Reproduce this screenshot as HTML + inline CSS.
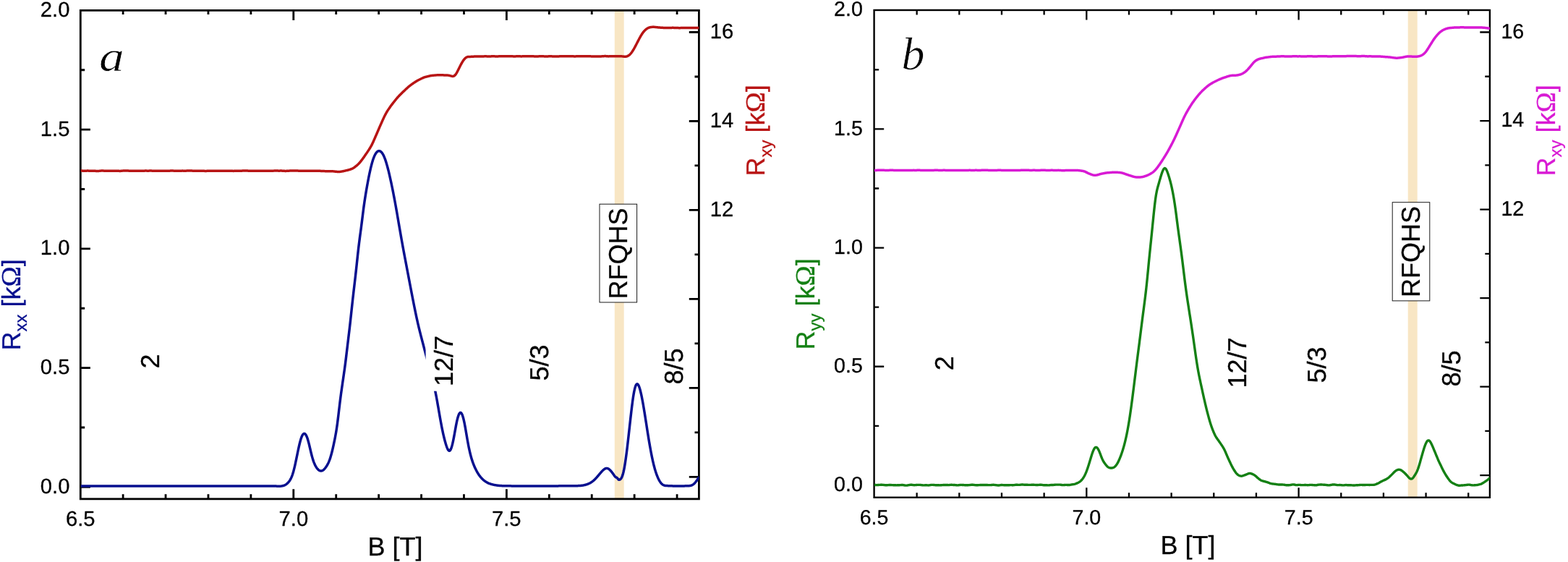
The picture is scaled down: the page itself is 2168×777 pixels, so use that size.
<!DOCTYPE html>
<html lang="en">
<head>
<meta charset="utf-8">
<title>Rxx, Ryy and Rxy versus B</title>
<style>html,body{margin:0;padding:0;background:#fff;}body{width:2168px;height:777px;overflow:hidden;}svg{display:block;}</style>
</head>
<body>
<svg width="2168" height="777" viewBox="0 0 2168 777" font-family='"Liberation Sans", sans-serif' text-rendering="geometricPrecision" role="img" aria-label="Magnetoresistance Rxx, Ryy and Hall resistance Rxy versus magnetic field B">
<style>text{stroke-width:0.3px;stroke-linejoin:round;paint-order:stroke fill;}</style>
<rect x="0" y="0" width="2168" height="777" fill="#ffffff"/>
<g id="p1">
<clipPath id="clip-p1"><rect x="111.3" y="14.4" width="855.1" height="675.45"/></clipPath>
<rect x="849.8" y="14.4" width="12.9" height="675.45" fill="#f8e6c4"/>
<path d="M170.12 689.85V683.15M170.12 14.4V20.1M229.04 689.85V683.15M229.04 14.4V20.1M287.96 689.85V683.15M287.96 14.4V20.1M346.88 689.85V683.15M346.88 14.4V20.1M405.8 689.85V676.25M405.8 14.4V28M464.72 689.85V683.15M464.72 14.4V20.1M523.64 689.85V683.15M523.64 14.4V20.1M582.56 689.85V683.15M582.56 14.4V20.1M641.48 689.85V683.15M641.48 14.4V20.1M700.4 689.85V676.25M700.4 14.4V28M759.32 689.85V683.15M759.32 14.4V20.1M818.24 689.85V683.15M818.24 14.4V20.1M877.16 689.85V683.15M877.16 14.4V20.1M936.08 689.85V683.15M936.08 14.4V20.1M111.3 673.4H124.9M111.3 591.02H117.2M111.3 508.65H124.9M111.3 426.27H117.2M111.3 343.9H124.9M111.3 261.52H117.2M111.3 179.15H124.9M111.3 96.77H117.2M966.4 659.4H952.8M966.4 597.91H960.5M966.4 536.42H952.8M966.4 474.93H960.5M966.4 413.44H952.8M966.4 351.95H960.5M966.4 290.46H952.8M966.4 228.97H960.5M966.4 167.48H952.8M966.4 105.99H960.5M966.4 44.5H952.8" stroke="#000" stroke-width="2.8" fill="none"/>
<rect x="111.3" y="14.4" width="855.1" height="675.45" fill="none" stroke="#000" stroke-width="2.8"/>
<g clip-path="url(#clip-p1)" fill="none" stroke-linejoin="round" stroke-linecap="butt">
<path d="M111.5 672 L112 672 L112.5 672 L113 672 L113.5 672 L114 672 L114.5 672 L115 672 L115.5 672 L116 672 L116.5 672 L117 672 L117.5 672 L118 672 L118.5 672 L119 672 L119.5 672 L120 672 L120.5 672 L121 672 L121.5 672 L122 672 L122.5 672 L123 672 L123.5 672 L124 672 L124.5 672 L125 672 L125.5 672 L126 672 L126.5 672 L127 672 L127.5 672 L128 672 L128.5 672 L129 672 L129.5 672 L130 672 L130.5 672 L131 672 L131.5 672 L132 672 L132.5 672 L133 672 L133.5 672 L134 672 L134.5 672 L135 672 L135.5 672 L136 672 L136.5 672 L137 672 L137.5 672 L138 672 L138.5 672 L139 672 L139.5 672 L140 672 L140.5 672 L141 672 L141.5 672 L142 672 L142.5 672 L143 672 L143.5 672 L144 672 L144.5 672 L145 672 L145.5 672 L146 672 L146.5 672 L147 672 L147.5 672 L148 672 L148.5 672 L149 672 L149.5 672 L150 672 L150.5 672 L151 672 L151.5 672 L152 672 L152.5 672 L153 672 L153.5 672 L154 672 L154.5 672 L155 672 L155.5 672 L156 672 L156.5 672 L157 672 L157.5 672 L158 672 L158.5 672 L159 672 L159.5 672 L160 672 L160.5 672 L161 672 L161.5 672 L162 672 L162.5 672 L163 672 L163.5 672 L164 672 L164.5 672 L165 672 L165.5 672 L166 672 L166.5 672 L167 672 L167.5 672 L168 672 L168.5 672 L169 672 L169.5 672 L170 672 L170.5 672 L171 672 L171.5 672 L172 672 L172.5 672 L173 672 L173.5 672 L174 672 L174.5 672 L175 672 L175.5 672 L176 672 L176.5 672 L177 672 L177.5 672 L178 672 L178.5 672 L179 672 L179.5 672 L180 672 L180.5 672 L181 672 L181.5 672 L182 672 L182.5 672 L183 672 L183.5 672 L184 672 L184.5 672 L185 672 L185.5 672 L186 672 L186.5 672 L187 672 L187.5 672 L188 672 L188.5 672 L189 672 L189.5 672 L190 672 L190.5 672 L191 672 L191.5 672 L192 672 L192.5 672 L193 672 L193.5 672 L194 672 L194.5 672 L195 672 L195.5 672 L196 672 L196.5 672 L197 672 L197.5 672 L198 672 L198.5 672 L199 672 L199.5 672 L200 672 L200.5 672 L201 672 L201.5 672 L202 672 L202.5 672 L203 672 L203.5 672 L204 672 L204.5 672 L205 672 L205.5 672 L206 672 L206.5 672 L207 672 L207.5 672 L208 672 L208.5 672 L209 672 L209.5 672 L210 672 L210.5 672 L211 672 L211.5 672 L212 672 L212.5 672 L213 672 L213.5 672 L214 672 L214.5 672 L215 672 L215.5 672 L216 672 L216.5 672 L217 672 L217.5 672 L218 672 L218.5 672 L219 672 L219.5 672 L220 672 L220.5 672 L221 672 L221.5 672 L222 672 L222.5 672 L223 672 L223.5 672 L224 672 L224.5 672 L225 672 L225.5 672 L226 672 L226.5 672 L227 672 L227.5 672 L228 672 L228.5 672 L229 672 L229.5 672 L230 672 L230.5 672 L231 672 L231.5 672 L232 672 L232.5 672 L233 672 L233.5 672 L234 672 L234.5 672 L235 672 L235.5 672 L236 672 L236.5 672 L237 672 L237.5 672 L238 672 L238.5 672 L239 672 L239.5 672 L240 672 L240.5 672 L241 672 L241.5 672 L242 672 L242.5 672 L243 672 L243.5 672 L244 672 L244.5 672 L245 672 L245.5 672 L246 672 L246.5 672 L247 672 L247.5 672 L248 672 L248.5 672 L249 672 L249.5 672 L250 672 L250.5 672 L251 672 L251.5 672 L252 672 L252.5 672 L253 672 L253.5 672 L254 672 L254.5 672 L255 672 L255.5 672 L256 672 L256.5 672 L257 672 L257.5 672 L258 672 L258.5 672 L259 672 L259.5 672 L260 672 L260.5 672 L261 672 L261.5 672 L262 672 L262.5 672 L263 672 L263.5 672 L264 672 L264.5 672 L265 672 L265.5 672 L266 672 L266.5 672 L267 672 L267.5 672 L268 672 L268.5 672 L269 672 L269.5 672 L270 672 L270.5 672 L271 672 L271.5 672 L272 672 L272.5 672 L273 672 L273.5 672 L274 672 L274.5 672 L275 672 L275.5 672 L276 672 L276.5 672 L277 672 L277.5 672 L278 672 L278.5 672 L279 672 L279.5 672 L280 672 L280.5 672 L281 672 L281.5 672 L282 672 L282.5 672 L283 672 L283.5 672 L284 672 L284.5 672 L285 672 L285.5 672 L286 672 L286.5 672 L287 672 L287.5 672 L288 672 L288.5 672 L289 672 L289.5 672 L290 672 L290.5 672 L291 672 L291.5 672 L292 672 L292.5 672 L293 672 L293.5 672 L294 672 L294.5 672 L295 672 L295.5 672 L296 672 L296.5 672 L297 672 L297.5 672 L298 672 L298.5 672 L299 672 L299.5 672 L300 672 L300.5 672 L301 672 L301.5 672 L302 672 L302.5 672 L303 672 L303.5 672 L304 672 L304.5 672 L305 672 L305.5 672 L306 672 L306.5 672 L307 672 L307.5 672 L308 672 L308.5 672 L309 672 L309.5 672 L310 672 L310.5 672 L311 672 L311.5 672 L312 672 L312.5 672 L313 672 L313.5 672 L314 672 L314.5 672 L315 672 L315.5 672 L316 672 L316.5 672 L317 672 L317.5 672 L318 672 L318.5 672 L319 672 L319.5 672 L320 672 L320.5 672 L321 672 L321.5 672 L322 672 L322.5 672 L323 672 L323.5 672 L324 672 L324.5 672 L325 672 L325.5 672 L326 672 L326.5 672 L327 672 L327.5 672 L328 672 L328.5 672 L329 672 L329.5 672 L330 672 L330.5 672 L331 672 L331.5 672 L332 672 L332.5 672 L333 672 L333.5 672 L334 672 L334.5 672 L335 672 L335.5 672 L336 672 L336.5 672 L337 672 L337.5 672 L338 672 L338.5 672 L339 672 L339.5 672 L340 672 L340.5 672 L341 672 L341.5 672 L342 672 L342.5 672 L343 672 L343.5 672 L344 672 L344.5 672 L345 672 L345.5 672 L346 672 L346.5 672 L347 672 L347.5 672 L348 672 L348.5 672 L349 672 L349.5 672 L350 672 L350.5 672 L351 672 L351.5 672 L352 672 L352.5 672 L353 672 L353.5 672 L354 672 L354.5 672 L355 672 L355.5 672 L356 672 L356.5 672 L357 672 L357.5 672 L358 672 L358.5 672 L359 672 L359.5 672 L360 672 L360.5 672 L361 672 L361.5 672 L362 672 L362.5 672 L363 672 L363.5 672 L364 672 L364.5 672 L365 672 L365.5 672 L366 672 L366.5 672 L367 672.01 L367.5 672.01 L368 672.01 L368.5 672.01 L369 672.01 L369.5 672.01 L370 672.01 L370.5 672.01 L371 672.01 L371.5 672.01 L372 672 L372.5 672 L373 672 L373.5 671.99 L374 671.98 L374.5 671.98 L375 671.97 L375.5 671.97 L376 671.96 L376.5 671.96 L377 671.96 L377.5 671.96 L378 671.96 L378.5 671.97 L379 671.98 L379.5 671.99 L380 672 L380.5 672.02 L381 672.05 L381.5 672.07 L382 672.1 L382.5 672.13 L383 672.15 L383.5 672.18 L384 672.2 L384.5 672.22 L385 672.23 L385.5 672.24 L386 672.24 L386.5 672.24 L387 672.22 L387.5 672.2 L388 672.16 L388.5 672.12 L389 672.06 L389.5 671.99 L390 671.9 L390.5 671.8 L391 671.69 L391.5 671.55 L392 671.4 L392.5 671.23 L393 671.03 L393.5 670.82 L394 670.58 L394.5 670.31 L395 670.02 L395.5 669.7 L396 669.35 L396.5 668.97 L397 668.55 L397.5 668.1 L398 667.61 L398.5 667.08 L399 666.51 L399.5 665.89 L400 665.22 L400.5 664.49 L401 663.71 L401.5 662.85 L402 661.92 L402.5 660.9 L403 659.79 L403.5 658.58 L404 657.27 L404.5 655.85 L405 654.3 L405.5 652.64 L406 650.85 L406.5 648.93 L407 646.91 L407.5 644.79 L408 642.58 L408.5 640.29 L409 637.96 L409.5 635.57 L410 633.16 L410.5 630.73 L411 628.31 L411.5 625.89 L412 623.5 L412.5 621.16 L413 618.87 L413.5 616.65 L414 614.51 L414.5 612.47 L415 610.54 L415.5 608.73 L416 607.05 L416.5 605.53 L417 604.16 L417.5 602.97 L418 601.95 L418.5 601.11 L419 600.45 L419.5 599.96 L420 599.65 L420.5 599.51 L421 599.54 L421.5 599.74 L422 600.11 L422.5 600.65 L423 601.36 L423.5 602.24 L424 603.29 L424.5 604.52 L425 605.91 L425.5 607.46 L426 609.16 L426.5 610.99 L427 612.92 L427.5 614.94 L428 617.01 L428.5 619.13 L429 621.26 L429.5 623.38 L430 625.48 L430.5 627.52 L431 629.48 L431.5 631.36 L432 633.13 L432.5 634.8 L433 636.35 L433.5 637.81 L434 639.16 L434.5 640.41 L435 641.58 L435.5 642.66 L436 643.66 L436.5 644.59 L437 645.44 L437.5 646.24 L438 646.97 L438.5 647.64 L439 648.26 L439.5 648.82 L440 649.32 L440.5 649.76 L441 650.14 L441.5 650.46 L442 650.72 L442.5 650.91 L443 651.04 L443.5 651.11 L444 651.11 L444.5 651.04 L445 650.91 L445.5 650.73 L446 650.48 L446.5 650.17 L447 649.81 L447.5 649.4 L448 648.94 L448.5 648.44 L449 647.88 L449.5 647.29 L450 646.65 L450.5 645.98 L451 645.26 L451.5 644.51 L452 643.71 L452.5 642.86 L453 641.95 L453.5 640.99 L454 639.96 L454.5 638.85 L455 637.66 L455.5 636.39 L456 635.03 L456.5 633.58 L457 632.02 L457.5 630.35 L458 628.59 L458.5 626.73 L459 624.77 L459.5 622.73 L460 620.61 L460.5 618.41 L461 616.16 L461.5 613.84 L462 611.47 L462.5 609.04 L463 606.55 L463.5 603.97 L464 601.28 L464.5 598.45 L465 595.45 L465.5 592.24 L466 588.82 L466.5 585.17 L467 581.31 L467.5 577.27 L468 573.11 L468.5 568.88 L469 564.63 L469.5 560.42 L470 556.29 L470.5 552.28 L471 548.4 L471.5 544.64 L472 541 L472.5 537.44 L473 533.96 L473.5 530.52 L474 527.11 L474.5 523.7 L475 520.28 L475.5 516.82 L476 513.3 L476.5 509.7 L477 506 L477.5 502.18 L478 498.25 L478.5 494.2 L479 490.08 L479.5 485.9 L480 481.71 L480.5 477.54 L481 473.38 L481.5 469.23 L482 465.08 L482.5 460.9 L483 456.67 L483.5 452.36 L484 447.97 L484.5 443.48 L485 438.91 L485.5 434.29 L486 429.64 L486.5 424.99 L487 420.37 L487.5 415.82 L488 411.34 L488.5 406.95 L489 402.63 L489.5 398.37 L490 394.13 L490.5 389.87 L491 385.58 L491.5 381.21 L492 376.76 L492.5 372.21 L493 367.57 L493.5 362.89 L494 358.2 L494.5 353.54 L495 348.97 L495.5 344.53 L496 340.25 L496.5 336.13 L497 332.18 L497.5 328.35 L498 324.6 L498.5 320.89 L499 317.16 L499.5 313.38 L500 309.52 L500.5 305.55 L501 301.52 L501.5 297.46 L502 293.45 L502.5 289.54 L503 285.78 L503.5 282.18 L504 278.73 L504.5 275.42 L505 272.22 L505.5 269.12 L506 266.1 L506.5 263.16 L507 260.29 L507.5 257.47 L508 254.71 L508.5 252 L509 249.35 L509.5 246.75 L510 244.21 L510.5 241.74 L511 239.34 L511.5 237.01 L512 234.77 L512.5 232.62 L513 230.55 L513.5 228.57 L514 226.68 L514.5 224.89 L515 223.19 L515.5 221.58 L516 220.07 L516.5 218.66 L517 217.35 L517.5 216.14 L518 215.02 L518.5 214 L519 213.07 L519.5 212.24 L520 211.5 L520.5 210.85 L521 210.28 L521.5 209.81 L522 209.42 L522.5 209.12 L523 208.9 L523.5 208.76 L524 208.7 L524.5 208.72 L525 208.83 L525.5 209.01 L526 209.27 L526.5 209.62 L527 210.04 L527.5 210.55 L528 211.14 L528.5 211.81 L529 212.56 L529.5 213.4 L530 214.33 L530.5 215.34 L531 216.43 L531.5 217.61 L532 218.88 L532.5 220.23 L533 221.66 L533.5 223.17 L534 224.75 L534.5 226.41 L535 228.13 L535.5 229.92 L536 231.78 L536.5 233.7 L537 235.67 L537.5 237.69 L538 239.77 L538.5 241.9 L539 244.07 L539.5 246.29 L540 248.55 L540.5 250.86 L541 253.2 L541.5 255.58 L542 257.99 L542.5 260.44 L543 262.93 L543.5 265.44 L544 267.99 L544.5 270.58 L545 273.19 L545.5 275.84 L546 278.52 L546.5 281.23 L547 283.98 L547.5 286.76 L548 289.57 L548.5 292.42 L549 295.29 L549.5 298.18 L550 301.09 L550.5 304.01 L551 306.93 L551.5 309.84 L552 312.75 L552.5 315.65 L553 318.54 L553.5 321.42 L554 324.28 L554.5 327.13 L555 329.95 L555.5 332.76 L556 335.55 L556.5 338.32 L557 341.07 L557.5 343.79 L558 346.5 L558.5 349.18 L559 351.85 L559.5 354.5 L560 357.15 L560.5 359.78 L561 362.4 L561.5 365.02 L562 367.64 L562.5 370.25 L563 372.86 L563.5 375.48 L564 378.1 L564.5 380.73 L565 383.35 L565.5 385.98 L566 388.61 L566.5 391.24 L567 393.87 L567.5 396.49 L568 399.11 L568.5 401.72 L569 404.33 L569.5 406.92 L570 409.51 L570.5 412.08 L571 414.64 L571.5 417.19 L572 419.72 L572.5 422.23 L573 424.72 L573.5 427.18 L574 429.62 L574.5 432.04 L575 434.43 L575.5 436.78 L576 439.11 L576.5 441.4 L577 443.65 L577.5 445.87 L578 448.05 L578.5 450.19 L579 452.29 L579.5 454.36 L580 456.4 L580.5 458.41 L581 460.4 L581.5 462.36 L582 464.31 L582.5 466.24 L583 468.16 L583.5 470.07 L584 471.98 L584.5 473.88 L585 475.79 L585.5 477.71 L586 479.63 L586.5 481.55 L587 483.48 L587.5 485.4 L588 487.32 L588.5 489.21 L589 491.09 L589.5 492.94 L590 494.77 L590.5 496.58 L591 498.37 L591.5 500.15 L592 501.92 L592.5 503.68 L593 505.45 L593.5 507.22 L594 509 L594.5 510.79 L595 512.59 L595.5 514.42 L596 516.26 L596.5 518.14 L597 520.05 L597.5 521.99 L598 523.98 L598.5 526.01 L599 528.08 L599.5 530.21 L600 532.4 L600.5 534.64 L601 536.95 L601.5 539.33 L602 541.78 L602.5 544.3 L603 546.89 L603.5 549.54 L604 552.26 L604.5 555.03 L605 557.85 L605.5 560.7 L606 563.57 L606.5 566.46 L607 569.36 L607.5 572.24 L608 575.11 L608.5 577.95 L609 580.75 L609.5 583.49 L610 586.18 L610.5 588.8 L611 591.35 L611.5 593.82 L612 596.22 L612.5 598.54 L613 600.78 L613.5 602.94 L614 605.02 L614.5 607.03 L615 608.95 L615.5 610.79 L616 612.55 L616.5 614.22 L617 615.8 L617.5 617.28 L618 618.65 L618.5 619.88 L619 620.95 L619.5 621.85 L620 622.54 L620.5 623.02 L621 623.27 L621.5 623.26 L622 622.98 L622.5 622.45 L623 621.66 L623.5 620.62 L624 619.35 L624.5 617.85 L625 616.14 L625.5 614.23 L626 612.13 L626.5 609.85 L627 607.42 L627.5 604.85 L628 602.18 L628.5 599.44 L629 596.65 L629.5 593.87 L630 591.12 L630.5 588.44 L631 585.86 L631.5 583.42 L632 581.15 L632.5 579.06 L633 577.18 L633.5 575.51 L634 574.06 L634.5 572.85 L635 571.87 L635.5 571.14 L636 570.65 L636.5 570.43 L637 570.47 L637.5 570.77 L638 571.33 L638.5 572.14 L639 573.2 L639.5 574.49 L640 576.02 L640.5 577.76 L641 579.71 L641.5 581.87 L642 584.21 L642.5 586.72 L643 589.38 L643.5 592.15 L644 595.01 L644.5 597.93 L645 600.87 L645.5 603.81 L646 606.71 L646.5 609.55 L647 612.3 L647.5 614.95 L648 617.48 L648.5 619.9 L649 622.21 L649.5 624.41 L650 626.51 L650.5 628.5 L651 630.4 L651.5 632.21 L652 633.93 L652.5 635.56 L653 637.12 L653.5 638.6 L654 640.01 L654.5 641.35 L655 642.64 L655.5 643.87 L656 645.04 L656.5 646.18 L657 647.26 L657.5 648.31 L658 649.32 L658.5 650.3 L659 651.24 L659.5 652.15 L660 653.02 L660.5 653.86 L661 654.67 L661.5 655.45 L662 656.2 L662.5 656.92 L663 657.62 L663.5 658.28 L664 658.92 L664.5 659.54 L665 660.13 L665.5 660.69 L666 661.24 L666.5 661.76 L667 662.26 L667.5 662.74 L668 663.2 L668.5 663.64 L669 664.05 L669.5 664.46 L670 664.84 L670.5 665.21 L671 665.56 L671.5 665.89 L672 666.21 L672.5 666.51 L673 666.8 L673.5 667.08 L674 667.34 L674.5 667.59 L675 667.83 L675.5 668.06 L676 668.27 L676.5 668.48 L677 668.67 L677.5 668.86 L678 669.03 L678.5 669.2 L679 669.36 L679.5 669.51 L680 669.65 L680.5 669.78 L681 669.91 L681.5 670.03 L682 670.15 L682.5 670.26 L683 670.36 L683.5 670.46 L684 670.55 L684.5 670.64 L685 670.72 L685.5 670.8 L686 670.88 L686.5 670.95 L687 671.02 L687.5 671.09 L688 671.15 L688.5 671.2 L689 671.26 L689.5 671.31 L690 671.36 L690.5 671.4 L691 671.44 L691.5 671.48 L692 671.52 L692.5 671.55 L693 671.58 L693.5 671.61 L694 671.64 L694.5 671.66 L695 671.69 L695.5 671.71 L696 671.72 L696.5 671.74 L697 671.76 L697.5 671.77 L698 671.78 L698.5 671.79 L699 671.8 L699.5 671.81 L700 671.82 L700.5 671.83 L701 671.83 L701.5 671.84 L702 671.84 L702.5 671.84 L703 671.85 L703.5 671.85 L704 671.86 L704.5 671.86 L705 671.86 L705.5 671.86 L706 671.87 L706.5 671.87 L707 671.88 L707.5 671.88 L708 671.88 L708.5 671.89 L709 671.89 L709.5 671.9 L710 671.9 L710.5 671.91 L711 671.91 L711.5 671.92 L712 671.92 L712.5 671.93 L713 671.93 L713.5 671.94 L714 671.95 L714.5 671.95 L715 671.96 L715.5 671.96 L716 671.97 L716.5 671.97 L717 671.98 L717.5 671.98 L718 671.99 L718.5 671.99 L719 671.99 L719.5 672 L720 672 L720.5 672 L721 672 L721.5 672 L722 672.01 L722.5 672.01 L723 672.01 L723.5 672.01 L724 672.01 L724.5 672.01 L725 672 L725.5 672 L726 672 L726.5 672 L727 672 L727.5 672 L728 672 L728.5 672 L729 672 L729.5 672 L730 672 L730.5 672 L731 672 L731.5 672 L732 672 L732.5 672 L733 672 L733.5 672 L734 672 L734.5 672 L735 672 L735.5 672 L736 672 L736.5 672 L737 672 L737.5 672 L738 672 L738.5 672 L739 672 L739.5 672 L740 672 L740.5 672 L741 672 L741.5 672 L742 672 L742.5 672 L743 672 L743.5 672 L744 672 L744.5 672 L745 672 L745.5 672 L746 672 L746.5 672 L747 672 L747.5 672 L748 672 L748.5 672 L749 672 L749.5 672 L750 672 L750.5 672 L751 672 L751.5 672 L752 672 L752.5 672 L753 672 L753.5 672 L754 672 L754.5 672 L755 672 L755.5 672.01 L756 672.01 L756.5 672.01 L757 672.01 L757.5 672.01 L758 672.01 L758.5 672 L759 672 L759.5 672 L760 672 L760.5 672 L761 671.99 L761.5 671.99 L762 671.99 L762.5 671.98 L763 671.98 L763.5 671.97 L764 671.97 L764.5 671.96 L765 671.96 L765.5 671.95 L766 671.94 L766.5 671.94 L767 671.93 L767.5 671.93 L768 671.92 L768.5 671.91 L769 671.91 L769.5 671.9 L770 671.9 L770.5 671.89 L771 671.89 L771.5 671.88 L772 671.88 L772.5 671.87 L773 671.87 L773.5 671.86 L774 671.86 L774.5 671.85 L775 671.85 L775.5 671.84 L776 671.84 L776.5 671.84 L777 671.83 L777.5 671.83 L778 671.82 L778.5 671.82 L779 671.81 L779.5 671.81 L780 671.8 L780.5 671.8 L781 671.79 L781.5 671.79 L782 671.78 L782.5 671.78 L783 671.77 L783.5 671.77 L784 671.76 L784.5 671.75 L785 671.75 L785.5 671.74 L786 671.73 L786.5 671.73 L787 671.72 L787.5 671.72 L788 671.71 L788.5 671.7 L789 671.7 L789.5 671.7 L790 671.69 L790.5 671.69 L791 671.68 L791.5 671.68 L792 671.68 L792.5 671.68 L793 671.68 L793.5 671.68 L794 671.68 L794.5 671.68 L795 671.68 L795.5 671.68 L796 671.68 L796.5 671.67 L797 671.67 L797.5 671.66 L798 671.65 L798.5 671.64 L799 671.63 L799.5 671.61 L800 671.6 L800.5 671.57 L801 671.55 L801.5 671.52 L802 671.49 L802.5 671.45 L803 671.41 L803.5 671.36 L804 671.31 L804.5 671.25 L805 671.19 L805.5 671.12 L806 671.04 L806.5 670.96 L807 670.87 L807.5 670.77 L808 670.66 L808.5 670.55 L809 670.43 L809.5 670.3 L810 670.16 L810.5 670.01 L811 669.86 L811.5 669.69 L812 669.51 L812.5 669.32 L813 669.12 L813.5 668.91 L814 668.69 L814.5 668.45 L815 668.21 L815.5 667.95 L816 667.67 L816.5 667.38 L817 667.08 L817.5 666.76 L818 666.43 L818.5 666.08 L819 665.72 L819.5 665.34 L820 664.94 L820.5 664.53 L821 664.1 L821.5 663.65 L822 663.18 L822.5 662.7 L823 662.2 L823.5 661.68 L824 661.15 L824.5 660.61 L825 660.05 L825.5 659.49 L826 658.92 L826.5 658.34 L827 657.75 L827.5 657.16 L828 656.57 L828.5 655.98 L829 655.39 L829.5 654.79 L830 654.21 L830.5 653.62 L831 653.05 L831.5 652.48 L832 651.93 L832.5 651.39 L833 650.88 L833.5 650.38 L834 649.92 L834.5 649.48 L835 649.07 L835.5 648.7 L836 648.38 L836.5 648.09 L837 647.86 L837.5 647.67 L838 647.54 L838.5 647.46 L839 647.45 L839.5 647.5 L840 647.61 L840.5 647.78 L841 648.01 L841.5 648.3 L842 648.64 L842.5 649.03 L843 649.46 L843.5 649.94 L844 650.46 L844.5 651.01 L845 651.59 L845.5 652.2 L846 652.84 L846.5 653.5 L847 654.17 L847.5 654.86 L848 655.57 L848.5 656.27 L849 656.98 L849.5 657.68 L850 658.36 L850.5 658.98 L851 659.48 L851.5 659.81 L852 660 L852.5 660.19 L853 660.5 L853.5 660.99 L854 661.62 L854.5 662.29 L855 662.85 L855.5 663.19 L856 663.32 L856.5 663.28 L857 663.11 L857.5 662.82 L858 662.41 L858.5 661.85 L859 661.13 L859.5 660.24 L860 659.17 L860.5 657.89 L861 656.4 L861.5 654.68 L862 652.72 L862.5 650.51 L863 648.04 L863.5 645.34 L864 642.39 L864.5 639.23 L865 635.86 L865.5 632.31 L866 628.58 L866.5 624.69 L867 620.67 L867.5 616.52 L868 612.26 L868.5 607.91 L869 603.49 L869.5 599.02 L870 594.52 L870.5 590 L871 585.48 L871.5 581 L872 576.56 L872.5 572.18 L873 567.9 L873.5 563.74 L874 559.72 L874.5 555.88 L875 552.25 L875.5 548.84 L876 545.7 L876.5 542.83 L877 540.27 L877.5 538.02 L878 536.08 L878.5 534.46 L879 533.14 L879.5 532.12 L880 531.41 L880.5 530.99 L881 530.86 L881.5 531.01 L882 531.43 L882.5 532.1 L883 533.02 L883.5 534.16 L884 535.51 L884.5 537.06 L885 538.78 L885.5 540.68 L886 542.73 L886.5 544.92 L887 547.24 L887.5 549.69 L888 552.25 L888.5 554.92 L889 557.68 L889.5 560.53 L890 563.46 L890.5 566.46 L891 569.51 L891.5 572.62 L892 575.76 L892.5 578.94 L893 582.14 L893.5 585.35 L894 588.57 L894.5 591.78 L895 594.97 L895.5 598.14 L896 601.28 L896.5 604.37 L897 607.42 L897.5 610.42 L898 613.36 L898.5 616.24 L899 619.06 L899.5 621.81 L900 624.49 L900.5 627.1 L901 629.64 L901.5 632.09 L902 634.47 L902.5 636.76 L903 638.96 L903.5 641.07 L904 643.1 L904.5 645.04 L905 646.9 L905.5 648.68 L906 650.38 L906.5 651.99 L907 653.53 L907.5 655 L908 656.39 L908.5 657.71 L909 658.96 L909.5 660.15 L910 661.26 L910.5 662.31 L911 663.3 L911.5 664.22 L912 665.09 L912.5 665.88 L913 666.62 L913.5 667.3 L914 667.92 L914.5 668.48 L915 668.99 L915.5 669.44 L916 669.83 L916.5 670.17 L917 670.47 L917.5 670.71 L918 670.92 L918.5 671.09 L919 671.22 L919.5 671.33 L920 671.41 L920.5 671.47 L921 671.52 L921.5 671.55 L922 671.58 L922.5 671.6 L923 671.62 L923.5 671.64 L924 671.66 L924.5 671.67 L925 671.69 L925.5 671.71 L926 671.74 L926.5 671.76 L927 671.78 L927.5 671.8 L928 671.82 L928.5 671.84 L929 671.86 L929.5 671.87 L930 671.89 L930.5 671.91 L931 671.92 L931.5 671.94 L932 671.95 L932.5 671.96 L933 671.97 L933.5 671.98 L934 671.99 L934.5 671.99 L935 672 L935.5 672 L936 672 L936.5 672 L937 671.99 L937.5 671.99 L938 671.98 L938.5 671.97 L939 671.96 L939.5 671.96 L940 671.95 L940.5 671.94 L941 671.93 L941.5 671.92 L942 671.91 L942.5 671.91 L943 671.9 L943.5 671.9 L944 671.89 L944.5 671.89 L945 671.88 L945.5 671.88 L946 671.88 L946.5 671.88 L947 671.87 L947.5 671.87 L948 671.86 L948.5 671.86 L949 671.85 L949.5 671.84 L950 671.83 L950.5 671.81 L951 671.8 L951.5 671.77 L952 671.75 L952.5 671.71 L953 671.67 L953.5 671.61 L954 671.53 L954.5 671.44 L955 671.33 L955.5 671.19 L956 671.03 L956.5 670.83 L957 670.61 L957.5 670.35 L958 670.05 L958.5 669.72 L959 669.34 L959.5 668.92 L960 668.46 L960.5 667.95 L961 667.4 L961.5 666.81 L962 666.19 L962.5 665.54 L963 664.87 L963.5 664.17 L964 663.46 L964.5 662.73 L965 661.99 L965.5 661.26 L966 660.56 L966.5 659.94 L967 659.47" stroke="#08108f" stroke-width="3.5"/>
<path d="M111.5 235.97 L112 235.99 L112.5 236.02 L113 236.06 L113.5 236.1 L114 236.15 L114.5 236.2 L115 236.25 L115.5 236.28 L116 236.31 L116.5 236.33 L117 236.34 L117.5 236.33 L118 236.3 L118.5 236.26 L119 236.22 L119.5 236.18 L120 236.14 L120.5 236.12 L121 236.1 L121.5 236.1 L122 236.11 L122.5 236.13 L123 236.15 L123.5 236.17 L124 236.19 L124.5 236.21 L125 236.22 L125.5 236.23 L126 236.24 L126.5 236.25 L127 236.25 L127.5 236.24 L128 236.24 L128.5 236.23 L129 236.22 L129.5 236.23 L130 236.23 L130.5 236.25 L131 236.28 L131.5 236.32 L132 236.36 L132.5 236.41 L133 236.45 L133.5 236.49 L134 236.52 L134.5 236.54 L135 236.54 L135.5 236.52 L136 236.49 L136.5 236.44 L137 236.38 L137.5 236.32 L138 236.26 L138.5 236.21 L139 236.16 L139.5 236.12 L140 236.1 L140.5 236.08 L141 236.08 L141.5 236.08 L142 236.08 L142.5 236.09 L143 236.11 L143.5 236.13 L144 236.16 L144.5 236.2 L145 236.23 L145.5 236.27 L146 236.31 L146.5 236.33 L147 236.35 L147.5 236.36 L148 236.35 L148.5 236.34 L149 236.31 L149.5 236.29 L150 236.26 L150.5 236.23 L151 236.21 L151.5 236.18 L152 236.16 L152.5 236.14 L153 236.13 L153.5 236.13 L154 236.13 L154.5 236.14 L155 236.16 L155.5 236.19 L156 236.21 L156.5 236.23 L157 236.26 L157.5 236.27 L158 236.28 L158.5 236.28 L159 236.28 L159.5 236.28 L160 236.27 L160.5 236.27 L161 236.26 L161.5 236.27 L162 236.27 L162.5 236.29 L163 236.31 L163.5 236.33 L164 236.35 L164.5 236.37 L165 236.39 L165.5 236.4 L166 236.39 L166.5 236.38 L167 236.35 L167.5 236.32 L168 236.27 L168.5 236.22 L169 236.17 L169.5 236.12 L170 236.08 L170.5 236.04 L171 236.02 L171.5 236.01 L172 236.01 L172.5 236.01 L173 236.02 L173.5 236.03 L174 236.04 L174.5 236.05 L175 236.05 L175.5 236.06 L176 236.07 L176.5 236.08 L177 236.1 L177.5 236.12 L178 236.15 L178.5 236.18 L179 236.21 L179.5 236.24 L180 236.27 L180.5 236.29 L181 236.31 L181.5 236.33 L182 236.33 L182.5 236.34 L183 236.33 L183.5 236.33 L184 236.33 L184.5 236.32 L185 236.32 L185.5 236.31 L186 236.3 L186.5 236.29 L187 236.28 L187.5 236.26 L188 236.25 L188.5 236.23 L189 236.22 L189.5 236.2 L190 236.18 L190.5 236.17 L191 236.15 L191.5 236.14 L192 236.13 L192.5 236.13 L193 236.14 L193.5 236.16 L194 236.19 L194.5 236.21 L195 236.24 L195.5 236.25 L196 236.26 L196.5 236.26 L197 236.25 L197.5 236.24 L198 236.22 L198.5 236.2 L199 236.17 L199.5 236.15 L200 236.13 L200.5 236.11 L201 236.1 L201.5 236.1 L202 236.11 L202.5 236.12 L203 236.13 L203.5 236.15 L204 236.16 L204.5 236.16 L205 236.16 L205.5 236.15 L206 236.13 L206.5 236.12 L207 236.1 L207.5 236.09 L208 236.09 L208.5 236.09 L209 236.1 L209.5 236.12 L210 236.13 L210.5 236.15 L211 236.16 L211.5 236.18 L212 236.19 L212.5 236.19 L213 236.2 L213.5 236.2 L214 236.21 L214.5 236.21 L215 236.21 L215.5 236.21 L216 236.2 L216.5 236.19 L217 236.18 L217.5 236.17 L218 236.16 L218.5 236.16 L219 236.16 L219.5 236.17 L220 236.19 L220.5 236.21 L221 236.23 L221.5 236.25 L222 236.27 L222.5 236.29 L223 236.3 L223.5 236.3 L224 236.3 L224.5 236.29 L225 236.28 L225.5 236.26 L226 236.24 L226.5 236.23 L227 236.22 L227.5 236.22 L228 236.22 L228.5 236.23 L229 236.24 L229.5 236.25 L230 236.26 L230.5 236.27 L231 236.27 L231.5 236.26 L232 236.25 L232.5 236.23 L233 236.22 L233.5 236.2 L234 236.17 L234.5 236.15 L235 236.13 L235.5 236.11 L236 236.1 L236.5 236.08 L237 236.08 L237.5 236.07 L238 236.08 L238.5 236.09 L239 236.1 L239.5 236.11 L240 236.13 L240.5 236.14 L241 236.15 L241.5 236.17 L242 236.18 L242.5 236.2 L243 236.21 L243.5 236.22 L244 236.23 L244.5 236.23 L245 236.23 L245.5 236.23 L246 236.23 L246.5 236.23 L247 236.23 L247.5 236.23 L248 236.24 L248.5 236.24 L249 236.23 L249.5 236.22 L250 236.2 L250.5 236.17 L251 236.15 L251.5 236.13 L252 236.12 L252.5 236.12 L253 236.13 L253.5 236.14 L254 236.15 L254.5 236.17 L255 236.18 L255.5 236.18 L256 236.18 L256.5 236.17 L257 236.16 L257.5 236.14 L258 236.12 L258.5 236.09 L259 236.07 L259.5 236.04 L260 236.01 L260.5 235.99 L261 235.97 L261.5 235.96 L262 235.95 L262.5 235.96 L263 235.97 L263.5 235.99 L264 236.02 L264.5 236.05 L265 236.09 L265.5 236.12 L266 236.14 L266.5 236.16 L267 236.17 L267.5 236.18 L268 236.19 L268.5 236.2 L269 236.2 L269.5 236.21 L270 236.22 L270.5 236.23 L271 236.24 L271.5 236.25 L272 236.26 L272.5 236.28 L273 236.3 L273.5 236.32 L274 236.33 L274.5 236.35 L275 236.36 L275.5 236.37 L276 236.37 L276.5 236.36 L277 236.35 L277.5 236.33 L278 236.31 L278.5 236.28 L279 236.26 L279.5 236.25 L280 236.24 L280.5 236.25 L281 236.27 L281.5 236.29 L282 236.32 L282.5 236.35 L283 236.38 L283.5 236.4 L284 236.41 L284.5 236.41 L285 236.4 L285.5 236.38 L286 236.36 L286.5 236.33 L287 236.31 L287.5 236.29 L288 236.29 L288.5 236.28 L289 236.29 L289.5 236.29 L290 236.29 L290.5 236.28 L291 236.27 L291.5 236.26 L292 236.25 L292.5 236.24 L293 236.22 L293.5 236.21 L294 236.2 L294.5 236.19 L295 236.18 L295.5 236.17 L296 236.17 L296.5 236.16 L297 236.15 L297.5 236.15 L298 236.14 L298.5 236.13 L299 236.13 L299.5 236.13 L300 236.14 L300.5 236.16 L301 236.18 L301.5 236.21 L302 236.24 L302.5 236.27 L303 236.3 L303.5 236.32 L304 236.34 L304.5 236.35 L305 236.36 L305.5 236.36 L306 236.35 L306.5 236.33 L307 236.32 L307.5 236.3 L308 236.28 L308.5 236.26 L309 236.25 L309.5 236.25 L310 236.24 L310.5 236.23 L311 236.22 L311.5 236.21 L312 236.2 L312.5 236.19 L313 236.18 L313.5 236.18 L314 236.18 L314.5 236.18 L315 236.18 L315.5 236.18 L316 236.18 L316.5 236.19 L317 236.19 L317.5 236.2 L318 236.22 L318.5 236.23 L319 236.25 L319.5 236.27 L320 236.3 L320.5 236.32 L321 236.34 L321.5 236.36 L322 236.37 L322.5 236.38 L323 236.38 L323.5 236.37 L324 236.36 L324.5 236.34 L325 236.32 L325.5 236.29 L326 236.28 L326.5 236.26 L327 236.26 L327.5 236.26 L328 236.26 L328.5 236.26 L329 236.27 L329.5 236.27 L330 236.28 L330.5 236.28 L331 236.28 L331.5 236.28 L332 236.27 L332.5 236.26 L333 236.24 L333.5 236.21 L334 236.18 L334.5 236.14 L335 236.1 L335.5 236.06 L336 236.02 L336.5 235.99 L337 235.97 L337.5 235.95 L338 235.94 L338.5 235.94 L339 235.94 L339.5 235.95 L340 235.96 L340.5 235.99 L341 236.02 L341.5 236.05 L342 236.09 L342.5 236.12 L343 236.16 L343.5 236.19 L344 236.21 L344.5 236.24 L345 236.26 L345.5 236.27 L346 236.29 L346.5 236.3 L347 236.31 L347.5 236.31 L348 236.31 L348.5 236.31 L349 236.29 L349.5 236.28 L350 236.26 L350.5 236.24 L351 236.23 L351.5 236.22 L352 236.21 L352.5 236.21 L353 236.22 L353.5 236.22 L354 236.23 L354.5 236.24 L355 236.24 L355.5 236.24 L356 236.24 L356.5 236.24 L357 236.23 L357.5 236.21 L358 236.2 L358.5 236.19 L359 236.17 L359.5 236.16 L360 236.16 L360.5 236.16 L361 236.17 L361.5 236.18 L362 236.2 L362.5 236.21 L363 236.22 L363.5 236.23 L364 236.22 L364.5 236.21 L365 236.2 L365.5 236.18 L366 236.16 L366.5 236.14 L367 236.13 L367.5 236.13 L368 236.13 L368.5 236.15 L369 236.17 L369.5 236.19 L370 236.22 L370.5 236.25 L371 236.27 L371.5 236.28 L372 236.29 L372.5 236.3 L373 236.3 L373.5 236.3 L374 236.3 L374.5 236.3 L375 236.3 L375.5 236.29 L376 236.28 L376.5 236.27 L377 236.24 L377.5 236.21 L378 236.16 L378.5 236.12 L379 236.07 L379.5 236.03 L380 236 L380.5 235.98 L381 235.97 L381.5 235.97 L382 235.98 L382.5 236 L383 236.03 L383.5 236.06 L384 236.09 L384.5 236.11 L385 236.13 L385.5 236.14 L386 236.14 L386.5 236.14 L387 236.12 L387.5 236.11 L388 236.1 L388.5 236.09 L389 236.09 L389.5 236.1 L390 236.13 L390.5 236.16 L391 236.2 L391.5 236.24 L392 236.28 L392.5 236.32 L393 236.35 L393.5 236.37 L394 236.38 L394.5 236.39 L395 236.39 L395.5 236.38 L396 236.36 L396.5 236.33 L397 236.3 L397.5 236.27 L398 236.24 L398.5 236.2 L399 236.18 L399.5 236.15 L400 236.14 L400.5 236.12 L401 236.11 L401.5 236.11 L402 236.1 L402.5 236.09 L403 236.08 L403.5 236.08 L404 236.07 L404.5 236.06 L405 236.06 L405.5 236.05 L406 236.04 L406.5 236.03 L407 236.02 L407.5 236.01 L408 236 L408.5 235.99 L409 235.99 L409.5 235.99 L410 236 L410.5 236.02 L411 236.05 L411.5 236.08 L412 236.11 L412.5 236.14 L413 236.17 L413.5 236.19 L414 236.21 L414.5 236.22 L415 236.24 L415.5 236.24 L416 236.25 L416.5 236.25 L417 236.24 L417.5 236.24 L418 236.23 L418.5 236.22 L419 236.21 L419.5 236.21 L420 236.2 L420.5 236.2 L421 236.2 L421.5 236.2 L422 236.21 L422.5 236.21 L423 236.21 L423.5 236.21 L424 236.21 L424.5 236.22 L425 236.22 L425.5 236.23 L426 236.24 L426.5 236.25 L427 236.27 L427.5 236.28 L428 236.29 L428.5 236.29 L429 236.29 L429.5 236.28 L430 236.27 L430.5 236.25 L431 236.23 L431.5 236.21 L432 236.19 L432.5 236.18 L433 236.17 L433.5 236.17 L434 236.18 L434.5 236.2 L435 236.22 L435.5 236.24 L436 236.26 L436.5 236.27 L437 236.28 L437.5 236.27 L438 236.26 L438.5 236.24 L439 236.21 L439.5 236.19 L440 236.18 L440.5 236.18 L441 236.19 L441.5 236.22 L442 236.26 L442.5 236.3 L443 236.35 L443.5 236.4 L444 236.43 L444.5 236.46 L445 236.48 L445.5 236.49 L446 236.49 L446.5 236.5 L447 236.51 L447.5 236.52 L448 236.55 L448.5 236.58 L449 236.62 L449.5 236.66 L450 236.7 L450.5 236.74 L451 236.77 L451.5 236.8 L452 236.82 L452.5 236.83 L453 236.83 L453.5 236.82 L454 236.8 L454.5 236.78 L455 236.76 L455.5 236.74 L456 236.72 L456.5 236.7 L457 236.7 L457.5 236.69 L458 236.7 L458.5 236.7 L459 236.72 L459.5 236.74 L460 236.78 L460.5 236.82 L461 236.87 L461.5 236.92 L462 236.98 L462.5 237.03 L463 237.09 L463.5 237.14 L464 237.19 L464.5 237.24 L465 237.29 L465.5 237.34 L466 237.39 L466.5 237.43 L467 237.47 L467.5 237.49 L468 237.5 L468.5 237.49 L469 237.47 L469.5 237.44 L470 237.4 L470.5 237.35 L471 237.28 L471.5 237.21 L472 237.13 L472.5 237.05 L473 236.96 L473.5 236.86 L474 236.76 L474.5 236.66 L475 236.55 L475.5 236.45 L476 236.35 L476.5 236.24 L477 236.13 L477.5 236.02 L478 235.91 L478.5 235.79 L479 235.67 L479.5 235.55 L480 235.43 L480.5 235.31 L481 235.19 L481.5 235.06 L482 234.93 L482.5 234.79 L483 234.64 L483.5 234.48 L484 234.31 L484.5 234.13 L485 233.95 L485.5 233.76 L486 233.56 L486.5 233.35 L487 233.13 L487.5 232.89 L488 232.63 L488.5 232.35 L489 232.04 L489.5 231.71 L490 231.35 L490.5 230.99 L491 230.61 L491.5 230.23 L492 229.84 L492.5 229.44 L493 229.03 L493.5 228.62 L494 228.18 L494.5 227.74 L495 227.27 L495.5 226.78 L496 226.28 L496.5 225.75 L497 225.2 L497.5 224.63 L498 224.04 L498.5 223.43 L499 222.81 L499.5 222.17 L500 221.53 L500.5 220.87 L501 220.2 L501.5 219.53 L502 218.84 L502.5 218.15 L503 217.45 L503.5 216.74 L504 216.02 L504.5 215.3 L505 214.57 L505.5 213.84 L506 213.11 L506.5 212.38 L507 211.64 L507.5 210.9 L508 210.15 L508.5 209.4 L509 208.65 L509.5 207.89 L510 207.12 L510.5 206.34 L511 205.56 L511.5 204.75 L512 203.93 L512.5 203.09 L513 202.21 L513.5 201.3 L514 200.35 L514.5 199.36 L515 198.33 L515.5 197.27 L516 196.17 L516.5 195.05 L517 193.91 L517.5 192.76 L518 191.61 L518.5 190.45 L519 189.29 L519.5 188.14 L520 186.99 L520.5 185.83 L521 184.68 L521.5 183.52 L522 182.36 L522.5 181.2 L523 180.04 L523.5 178.87 L524 177.71 L524.5 176.55 L525 175.4 L525.5 174.25 L526 173.11 L526.5 171.98 L527 170.85 L527.5 169.73 L528 168.61 L528.5 167.5 L529 166.39 L529.5 165.29 L530 164.2 L530.5 163.13 L531 162.08 L531.5 161.04 L532 160.03 L532.5 159.04 L533 158.08 L533.5 157.14 L534 156.24 L534.5 155.36 L535 154.52 L535.5 153.7 L536 152.9 L536.5 152.13 L537 151.37 L537.5 150.62 L538 149.89 L538.5 149.16 L539 148.44 L539.5 147.72 L540 147.01 L540.5 146.32 L541 145.64 L541.5 144.97 L542 144.32 L542.5 143.67 L543 143.04 L543.5 142.4 L544 141.77 L544.5 141.14 L545 140.51 L545.5 139.88 L546 139.24 L546.5 138.62 L547 137.99 L547.5 137.37 L548 136.76 L548.5 136.16 L549 135.57 L549.5 134.99 L550 134.42 L550.5 133.87 L551 133.33 L551.5 132.81 L552 132.29 L552.5 131.79 L553 131.28 L553.5 130.78 L554 130.28 L554.5 129.78 L555 129.28 L555.5 128.78 L556 128.29 L556.5 127.79 L557 127.3 L557.5 126.82 L558 126.35 L558.5 125.88 L559 125.41 L559.5 124.94 L560 124.48 L560.5 124.01 L561 123.55 L561.5 123.08 L562 122.61 L562.5 122.14 L563 121.67 L563.5 121.21 L564 120.75 L564.5 120.31 L565 119.89 L565.5 119.47 L566 119.07 L566.5 118.68 L567 118.29 L567.5 117.92 L568 117.54 L568.5 117.17 L569 116.8 L569.5 116.43 L570 116.06 L570.5 115.71 L571 115.36 L571.5 115.01 L572 114.68 L572.5 114.36 L573 114.04 L573.5 113.72 L574 113.41 L574.5 113.09 L575 112.77 L575.5 112.46 L576 112.15 L576.5 111.84 L577 111.55 L577.5 111.26 L578 110.99 L578.5 110.72 L579 110.47 L579.5 110.23 L580 109.99 L580.5 109.76 L581 109.52 L581.5 109.27 L582 109.03 L582.5 108.78 L583 108.53 L583.5 108.28 L584 108.04 L584.5 107.8 L585 107.57 L585.5 107.35 L586 107.15 L586.5 106.96 L587 106.79 L587.5 106.64 L588 106.5 L588.5 106.38 L589 106.26 L589.5 106.15 L590 106.04 L590.5 105.92 L591 105.79 L591.5 105.66 L592 105.53 L592.5 105.39 L593 105.25 L593.5 105.11 L594 104.98 L594.5 104.86 L595 104.75 L595.5 104.65 L596 104.57 L596.5 104.5 L597 104.45 L597.5 104.39 L598 104.35 L598.5 104.31 L599 104.26 L599.5 104.22 L600 104.18 L600.5 104.13 L601 104.09 L601.5 104.04 L602 104 L602.5 103.95 L603 103.91 L603.5 103.87 L604 103.83 L604.5 103.8 L605 103.78 L605.5 103.77 L606 103.77 L606.5 103.77 L607 103.78 L607.5 103.79 L608 103.79 L608.5 103.8 L609 103.79 L609.5 103.79 L610 103.78 L610.5 103.77 L611 103.77 L611.5 103.78 L612 103.79 L612.5 103.82 L613 103.86 L613.5 103.9 L614 103.94 L614.5 103.97 L615 104 L615.5 104.02 L616 104.02 L616.5 104.02 L617 104.02 L617.5 104.03 L618 104.03 L618.5 104.05 L619 104.08 L619.5 104.12 L620 104.18 L620.5 104.25 L621 104.34 L621.5 104.45 L622 104.58 L622.5 104.71 L623 104.85 L623.5 104.98 L624 105.12 L624.5 105.23 L625 105.33 L625.5 105.39 L626 105.41 L626.5 105.38 L627 105.28 L627.5 105.12 L628 104.87 L628.5 104.53 L629 104.09 L629.5 103.55 L630 102.92 L630.5 102.2 L631 101.41 L631.5 100.56 L632 99.65 L632.5 98.7 L633 97.73 L633.5 96.73 L634 95.72 L634.5 94.71 L635 93.71 L635.5 92.71 L636 91.72 L636.5 90.75 L637 89.8 L637.5 88.86 L638 87.95 L638.5 87.06 L639 86.2 L639.5 85.37 L640 84.57 L640.5 83.82 L641 83.11 L641.5 82.44 L642 81.83 L642.5 81.26 L643 80.75 L643.5 80.3 L644 79.9 L644.5 79.55 L645 79.25 L645.5 79 L646 78.79 L646.5 78.64 L647 78.52 L647.5 78.45 L648 78.41 L648.5 78.39 L649 78.39 L649.5 78.39 L650 78.39 L650.5 78.38 L651 78.37 L651.5 78.34 L652 78.31 L652.5 78.28 L653 78.24 L653.5 78.21 L654 78.18 L654.5 78.16 L655 78.13 L655.5 78.1 L656 78.08 L656.5 78.06 L657 78.04 L657.5 78.02 L658 78.01 L658.5 78 L659 78 L659.5 77.99 L660 77.99 L660.5 78 L661 78 L661.5 77.99 L662 77.99 L662.5 78 L663 78 L663.5 78.01 L664 78.02 L664.5 78.04 L665 78.05 L665.5 78.07 L666 78.07 L666.5 78.07 L667 78.05 L667.5 78.03 L668 77.99 L668.5 77.95 L669 77.91 L669.5 77.87 L670 77.85 L670.5 77.83 L671 77.82 L671.5 77.82 L672 77.84 L672.5 77.86 L673 77.88 L673.5 77.91 L674 77.94 L674.5 77.96 L675 77.98 L675.5 78 L676 78.01 L676.5 78.01 L677 78 L677.5 77.98 L678 77.96 L678.5 77.92 L679 77.89 L679.5 77.85 L680 77.82 L680.5 77.8 L681 77.79 L681.5 77.79 L682 77.79 L682.5 77.81 L683 77.83 L683.5 77.85 L684 77.87 L684.5 77.88 L685 77.89 L685.5 77.9 L686 77.9 L686.5 77.9 L687 77.9 L687.5 77.89 L688 77.89 L688.5 77.88 L689 77.88 L689.5 77.87 L690 77.87 L690.5 77.86 L691 77.85 L691.5 77.85 L692 77.84 L692.5 77.83 L693 77.83 L693.5 77.83 L694 77.83 L694.5 77.83 L695 77.84 L695.5 77.85 L696 77.84 L696.5 77.83 L697 77.81 L697.5 77.78 L698 77.75 L698.5 77.71 L699 77.68 L699.5 77.65 L700 77.64 L700.5 77.63 L701 77.64 L701.5 77.65 L702 77.68 L702.5 77.7 L703 77.73 L703.5 77.76 L704 77.78 L704.5 77.8 L705 77.82 L705.5 77.83 L706 77.84 L706.5 77.84 L707 77.84 L707.5 77.85 L708 77.85 L708.5 77.86 L709 77.87 L709.5 77.88 L710 77.89 L710.5 77.9 L711 77.9 L711.5 77.9 L712 77.89 L712.5 77.89 L713 77.88 L713.5 77.87 L714 77.87 L714.5 77.87 L715 77.87 L715.5 77.86 L716 77.86 L716.5 77.86 L717 77.86 L717.5 77.86 L718 77.86 L718.5 77.86 L719 77.87 L719.5 77.87 L720 77.88 L720.5 77.88 L721 77.88 L721.5 77.88 L722 77.87 L722.5 77.86 L723 77.84 L723.5 77.83 L724 77.82 L724.5 77.81 L725 77.8 L725.5 77.8 L726 77.8 L726.5 77.81 L727 77.81 L727.5 77.82 L728 77.83 L728.5 77.83 L729 77.84 L729.5 77.84 L730 77.84 L730.5 77.84 L731 77.83 L731.5 77.82 L732 77.81 L732.5 77.8 L733 77.79 L733.5 77.77 L734 77.77 L734.5 77.76 L735 77.76 L735.5 77.76 L736 77.77 L736.5 77.79 L737 77.81 L737.5 77.84 L738 77.86 L738.5 77.88 L739 77.89 L739.5 77.9 L740 77.91 L740.5 77.91 L741 77.91 L741.5 77.9 L742 77.9 L742.5 77.89 L743 77.89 L743.5 77.89 L744 77.88 L744.5 77.88 L745 77.87 L745.5 77.86 L746 77.85 L746.5 77.84 L747 77.82 L747.5 77.81 L748 77.79 L748.5 77.78 L749 77.77 L749.5 77.76 L750 77.77 L750.5 77.78 L751 77.8 L751.5 77.83 L752 77.87 L752.5 77.9 L753 77.93 L753.5 77.96 L754 77.98 L754.5 77.99 L755 77.99 L755.5 77.98 L756 77.96 L756.5 77.94 L757 77.93 L757.5 77.91 L758 77.89 L758.5 77.87 L759 77.86 L759.5 77.85 L760 77.83 L760.5 77.83 L761 77.82 L761.5 77.82 L762 77.83 L762.5 77.85 L763 77.87 L763.5 77.89 L764 77.9 L764.5 77.91 L765 77.91 L765.5 77.9 L766 77.9 L766.5 77.9 L767 77.9 L767.5 77.91 L768 77.92 L768.5 77.94 L769 77.96 L769.5 77.97 L770 77.97 L770.5 77.97 L771 77.96 L771.5 77.94 L772 77.92 L772.5 77.9 L773 77.88 L773.5 77.86 L774 77.85 L774.5 77.84 L775 77.83 L775.5 77.82 L776 77.81 L776.5 77.81 L777 77.81 L777.5 77.81 L778 77.81 L778.5 77.82 L779 77.82 L779.5 77.83 L780 77.82 L780.5 77.82 L781 77.81 L781.5 77.79 L782 77.77 L782.5 77.75 L783 77.74 L783.5 77.73 L784 77.73 L784.5 77.74 L785 77.74 L785.5 77.75 L786 77.76 L786.5 77.76 L787 77.76 L787.5 77.75 L788 77.74 L788.5 77.73 L789 77.72 L789.5 77.72 L790 77.73 L790.5 77.74 L791 77.76 L791.5 77.78 L792 77.81 L792.5 77.84 L793 77.87 L793.5 77.89 L794 77.91 L794.5 77.91 L795 77.91 L795.5 77.9 L796 77.89 L796.5 77.87 L797 77.84 L797.5 77.82 L798 77.79 L798.5 77.77 L799 77.76 L799.5 77.75 L800 77.75 L800.5 77.75 L801 77.75 L801.5 77.76 L802 77.76 L802.5 77.77 L803 77.78 L803.5 77.79 L804 77.8 L804.5 77.82 L805 77.83 L805.5 77.85 L806 77.86 L806.5 77.86 L807 77.86 L807.5 77.84 L808 77.82 L808.5 77.79 L809 77.77 L809.5 77.74 L810 77.73 L810.5 77.72 L811 77.72 L811.5 77.72 L812 77.72 L812.5 77.73 L813 77.73 L813.5 77.73 L814 77.74 L814.5 77.74 L815 77.76 L815.5 77.78 L816 77.8 L816.5 77.83 L817 77.87 L817.5 77.9 L818 77.92 L818.5 77.95 L819 77.96 L819.5 77.98 L820 77.98 L820.5 77.98 L821 77.98 L821.5 77.98 L822 77.97 L822.5 77.97 L823 77.97 L823.5 77.98 L824 77.99 L824.5 78 L825 78.01 L825.5 78.03 L826 78.03 L826.5 78.03 L827 78.02 L827.5 78 L828 77.98 L828.5 77.96 L829 77.94 L829.5 77.92 L830 77.91 L830.5 77.9 L831 77.89 L831.5 77.88 L832 77.86 L832.5 77.84 L833 77.81 L833.5 77.78 L834 77.74 L834.5 77.7 L835 77.66 L835.5 77.62 L836 77.6 L836.5 77.59 L837 77.59 L837.5 77.61 L838 77.64 L838.5 77.69 L839 77.75 L839.5 77.8 L840 77.84 L840.5 77.87 L841 77.89 L841.5 77.88 L842 77.87 L842.5 77.85 L843 77.82 L843.5 77.8 L844 77.78 L844.5 77.77 L845 77.77 L845.5 77.77 L846 77.78 L846.5 77.78 L847 77.79 L847.5 77.79 L848 77.79 L848.5 77.79 L849 77.8 L849.5 77.8 L850 77.8 L850.5 77.8 L851 77.8 L851.5 77.81 L852 77.81 L852.5 77.82 L853 77.83 L853.5 77.83 L854 77.83 L854.5 77.83 L855 77.82 L855.5 77.8 L856 77.79 L856.5 77.77 L857 77.76 L857.5 77.76 L858 77.76 L858.5 77.78 L859 77.8 L859.5 77.83 L860 77.87 L860.5 77.92 L861 77.98 L861.5 78.04 L862 78.1 L862.5 78.15 L863 78.19 L863.5 78.22 L864 78.23 L864.5 78.23 L865 78.2 L865.5 78.15 L866 78.07 L866.5 77.96 L867 77.82 L867.5 77.63 L868 77.4 L868.5 77.13 L869 76.82 L869.5 76.46 L870 76.07 L870.5 75.64 L871 75.17 L871.5 74.67 L872 74.13 L872.5 73.55 L873 72.92 L873.5 72.26 L874 71.55 L874.5 70.8 L875 70.02 L875.5 69.21 L876 68.38 L876.5 67.52 L877 66.64 L877.5 65.74 L878 64.82 L878.5 63.88 L879 62.93 L879.5 61.97 L880 61.01 L880.5 60.04 L881 59.07 L881.5 58.1 L882 57.12 L882.5 56.16 L883 55.19 L883.5 54.24 L884 53.3 L884.5 52.38 L885 51.47 L885.5 50.59 L886 49.72 L886.5 48.89 L887 48.07 L887.5 47.28 L888 46.52 L888.5 45.79 L889 45.09 L889.5 44.43 L890 43.8 L890.5 43.21 L891 42.66 L891.5 42.14 L892 41.65 L892.5 41.19 L893 40.76 L893.5 40.35 L894 39.97 L894.5 39.61 L895 39.28 L895.5 38.98 L896 38.72 L896.5 38.48 L897 38.28 L897.5 38.11 L898 37.97 L898.5 37.84 L899 37.74 L899.5 37.65 L900 37.57 L900.5 37.5 L901 37.44 L901.5 37.38 L902 37.34 L902.5 37.31 L903 37.29 L903.5 37.29 L904 37.3 L904.5 37.33 L905 37.38 L905.5 37.43 L906 37.48 L906.5 37.53 L907 37.58 L907.5 37.63 L908 37.68 L908.5 37.73 L909 37.78 L909.5 37.84 L910 37.89 L910.5 37.94 L911 37.99 L911.5 38.03 L912 38.07 L912.5 38.11 L913 38.14 L913.5 38.18 L914 38.21 L914.5 38.25 L915 38.28 L915.5 38.31 L916 38.34 L916.5 38.37 L917 38.39 L917.5 38.42 L918 38.44 L918.5 38.46 L919 38.48 L919.5 38.49 L920 38.5 L920.5 38.49 L921 38.48 L921.5 38.46 L922 38.44 L922.5 38.42 L923 38.4 L923.5 38.39 L924 38.38 L924.5 38.39 L925 38.39 L925.5 38.4 L926 38.41 L926.5 38.41 L927 38.41 L927.5 38.4 L928 38.4 L928.5 38.39 L929 38.38 L929.5 38.37 L930 38.37 L930.5 38.37 L931 38.37 L931.5 38.38 L932 38.38 L932.5 38.4 L933 38.41 L933.5 38.43 L934 38.45 L934.5 38.47 L935 38.5 L935.5 38.52 L936 38.55 L936.5 38.57 L937 38.59 L937.5 38.61 L938 38.62 L938.5 38.63 L939 38.64 L939.5 38.65 L940 38.65 L940.5 38.64 L941 38.62 L941.5 38.6 L942 38.57 L942.5 38.53 L943 38.49 L943.5 38.46 L944 38.43 L944.5 38.42 L945 38.41 L945.5 38.42 L946 38.44 L946.5 38.47 L947 38.49 L947.5 38.52 L948 38.53 L948.5 38.55 L949 38.55 L949.5 38.54 L950 38.53 L950.5 38.52 L951 38.52 L951.5 38.51 L952 38.51 L952.5 38.52 L953 38.52 L953.5 38.53 L954 38.54 L954.5 38.54 L955 38.54 L955.5 38.54 L956 38.53 L956.5 38.53 L957 38.53 L957.5 38.53 L958 38.53 L958.5 38.53 L959 38.52 L959.5 38.52 L960 38.51 L960.5 38.51 L961 38.51 L961.5 38.52 L962 38.53 L962.5 38.54 L963 38.55 L963.5 38.56 L964 38.56 L964.5 38.56 L965 38.55 L965.5 38.54 L966 38.53 L966.5 38.52 L967 38.51" stroke="#b81414" stroke-width="3.5"/>
</g>
<rect x="588.6" y="458" width="46" height="82.7" fill="#ffffff"/>
<g font-size="29.2" fill="#000" stroke="#000">
<text x="96.4" y="22.54" text-anchor="end">2.0</text>
<text x="96.4" y="187.54" text-anchor="end">1.5</text>
<text x="96.4" y="352.24" text-anchor="end">1.0</text>
<text x="96.4" y="516.94" text-anchor="end">0.5</text>
<text x="96.4" y="682.14" text-anchor="end">0.0</text>
<text x="981.7" y="53.14" text-anchor="start">16</text>
<text x="981.7" y="176.14" text-anchor="start">14</text>
<text x="981.7" y="299.04" text-anchor="start">12</text>
<text x="111.3" y="727.24" text-anchor="middle">6.5</text>
<text x="405.9" y="727.24" text-anchor="middle">7.0</text>
<text x="700.3" y="727.24" text-anchor="middle">7.5</text>
</g>
<text x="508.4" y="768.4" font-size="36" text-anchor="start" fill="#000" stroke="#000">B [T]</text>
<text transform="translate(27.8 484.4) rotate(-90)" font-size="36" fill="#08108f" stroke="#08108f" >R<tspan font-size="24" dy="9.6">xx</tspan><tspan dy="-9.6"> [k</tspan><tspan font-family='"Liberation Serif", serif' font-size="38">Ω</tspan>]</text>
<text transform="translate(1057.2 243.6) rotate(-90)" font-size="36" fill="#b81414" stroke="#b81414" >R<tspan font-size="24" dy="9.6">xy</tspan><tspan dy="-9.6"> [k</tspan><tspan font-family='"Liberation Serif", serif' font-size="38">Ω</tspan>]</text>
<text transform="translate(220.3 509.6) rotate(-90)" font-size="36" fill="#000" stroke="#000" >2</text>
<text transform="translate(626.4 534) rotate(-90)" font-size="36" fill="#000" stroke="#000" >12/7</text>
<text transform="translate(757.7 526.5) rotate(-90)" font-size="36" fill="#000" stroke="#000" >5/3</text>
<text transform="translate(944.2 531.6) rotate(-90)" font-size="36" fill="#000" stroke="#000" >8/5</text>
<rect x="829" y="282.2" width="51.6" height="135.8" fill="#fff" stroke="#1a1a1a" stroke-width="1"/>
<text transform="translate(866.6 413.6) rotate(-90)" font-size="36" fill="#000" stroke="#000" >RFQHS</text>
<text transform="translate(137 98.3) scale(1.085 0.92)" font-family='"Liberation Serif", serif' font-style="italic" font-size="64" fill="#000" stroke="#fff" style="stroke-width:0.7px;paint-order:fill stroke">a</text>
</g>
<g id="p2">
<clipPath id="clip-p2"><rect x="1208.6" y="14" width="851.3" height="673.75"/></clipPath>
<rect x="1946.7" y="14" width="13" height="673.75" fill="#f8e6c4"/>
<path d="M1267.66 687.75V681.15M1267.66 14V20.6M1326.32 687.75V681.15M1326.32 14V20.6M1384.98 687.75V681.15M1384.98 14V20.6M1443.64 687.75V681.15M1443.64 14V20.6M1502.3 687.75V674.15M1502.3 14V27.6M1560.96 687.75V681.15M1560.96 14V20.6M1619.62 687.75V681.15M1619.62 14V20.6M1678.28 687.75V681.15M1678.28 14V20.6M1736.94 687.75V681.15M1736.94 14V20.6M1795.6 687.75V674.15M1795.6 14V27.6M1854.26 687.75V681.15M1854.26 14V20.6M1912.92 687.75V681.15M1912.92 14V20.6M1971.58 687.75V681.15M1971.58 14V20.6M2030.24 687.75V681.15M2030.24 14V20.6M1208.6 670.9H1222.2M1208.6 588.82H1215.2M1208.6 506.75H1222.2M1208.6 424.67H1215.2M1208.6 342.6H1222.2M1208.6 260.52H1215.2M1208.6 178.45H1222.2M1208.6 96.38H1215.2M2059.9 657.2H2046.3M2059.9 595.93H2053.3M2059.9 534.66H2046.3M2059.9 473.39H2053.3M2059.9 412.12H2046.3M2059.9 350.85H2053.3M2059.9 289.58H2046.3M2059.9 228.31H2053.3M2059.9 167.04H2046.3M2059.9 105.77H2053.3M2059.9 44.5H2046.3" stroke="#000" stroke-width="2.3" fill="none"/>
<rect x="1208.6" y="14" width="851.3" height="673.75" fill="none" stroke="#000" stroke-width="2.4"/>
<g clip-path="url(#clip-p2)" fill="none" stroke-linejoin="round" stroke-linecap="butt">
<path d="M1208.9 670.4 L1209.4 670.42 L1209.9 670.45 L1210.4 670.49 L1210.9 670.53 L1211.4 670.57 L1211.9 670.59 L1212.4 670.59 L1212.9 670.59 L1213.4 670.57 L1213.9 670.54 L1214.4 670.51 L1214.9 670.47 L1215.4 670.43 L1215.9 670.39 L1216.4 670.36 L1216.9 670.33 L1217.4 670.32 L1217.9 670.31 L1218.4 670.3 L1218.9 670.3 L1219.4 670.31 L1219.9 670.32 L1220.4 670.34 L1220.9 670.37 L1221.4 670.42 L1221.9 670.47 L1222.4 670.54 L1222.9 670.61 L1223.4 670.68 L1223.9 670.74 L1224.4 670.78 L1224.9 670.8 L1225.4 670.8 L1225.9 670.78 L1226.4 670.75 L1226.9 670.71 L1227.4 670.66 L1227.9 670.62 L1228.4 670.59 L1228.9 670.56 L1229.4 670.53 L1229.9 670.51 L1230.4 670.5 L1230.9 670.5 L1231.4 670.51 L1231.9 670.54 L1232.4 670.56 L1232.9 670.59 L1233.4 670.62 L1233.9 670.65 L1234.4 670.67 L1234.9 670.68 L1235.4 670.69 L1235.9 670.7 L1236.4 670.72 L1236.9 670.74 L1237.4 670.76 L1237.9 670.79 L1238.4 670.81 L1238.9 670.82 L1239.4 670.83 L1239.9 670.83 L1240.4 670.82 L1240.9 670.82 L1241.4 670.81 L1241.9 670.8 L1242.4 670.79 L1242.9 670.78 L1243.4 670.75 L1243.9 670.72 L1244.4 670.67 L1244.9 670.63 L1245.4 670.58 L1245.9 670.53 L1246.4 670.5 L1246.9 670.48 L1247.4 670.48 L1247.9 670.5 L1248.4 670.55 L1248.9 670.62 L1249.4 670.7 L1249.9 670.79 L1250.4 670.88 L1250.9 670.97 L1251.4 671.04 L1251.9 671.09 L1252.4 671.12 L1252.9 671.13 L1253.4 671.11 L1253.9 671.07 L1254.4 671.02 L1254.9 670.95 L1255.4 670.86 L1255.9 670.77 L1256.4 670.67 L1256.9 670.57 L1257.4 670.48 L1257.9 670.4 L1258.4 670.32 L1258.9 670.27 L1259.4 670.24 L1259.9 670.23 L1260.4 670.26 L1260.9 670.31 L1261.4 670.38 L1261.9 670.46 L1262.4 670.55 L1262.9 670.62 L1263.4 670.67 L1263.9 670.7 L1264.4 670.69 L1264.9 670.67 L1265.4 670.62 L1265.9 670.57 L1266.4 670.52 L1266.9 670.47 L1267.4 670.43 L1267.9 670.41 L1268.4 670.39 L1268.9 670.39 L1269.4 670.38 L1269.9 670.37 L1270.4 670.36 L1270.9 670.36 L1271.4 670.36 L1271.9 670.38 L1272.4 670.41 L1272.9 670.46 L1273.4 670.53 L1273.9 670.6 L1274.4 670.68 L1274.9 670.75 L1275.4 670.81 L1275.9 670.86 L1276.4 670.88 L1276.9 670.89 L1277.4 670.88 L1277.9 670.86 L1278.4 670.82 L1278.9 670.79 L1279.4 670.76 L1279.9 670.75 L1280.4 670.75 L1280.9 670.77 L1281.4 670.8 L1281.9 670.84 L1282.4 670.88 L1282.9 670.92 L1283.4 670.93 L1283.9 670.93 L1284.4 670.89 L1284.9 670.83 L1285.4 670.75 L1285.9 670.66 L1286.4 670.56 L1286.9 670.48 L1287.4 670.41 L1287.9 670.36 L1288.4 670.34 L1288.9 670.33 L1289.4 670.34 L1289.9 670.37 L1290.4 670.4 L1290.9 670.44 L1291.4 670.49 L1291.9 670.54 L1292.4 670.6 L1292.9 670.64 L1293.4 670.69 L1293.9 670.72 L1294.4 670.74 L1294.9 670.75 L1295.4 670.76 L1295.9 670.77 L1296.4 670.77 L1296.9 670.77 L1297.4 670.78 L1297.9 670.79 L1298.4 670.8 L1298.9 670.81 L1299.4 670.83 L1299.9 670.83 L1300.4 670.82 L1300.9 670.8 L1301.4 670.77 L1301.9 670.73 L1302.4 670.68 L1302.9 670.63 L1303.4 670.59 L1303.9 670.56 L1304.4 670.54 L1304.9 670.53 L1305.4 670.52 L1305.9 670.5 L1306.4 670.48 L1306.9 670.46 L1307.4 670.45 L1307.9 670.43 L1308.4 670.43 L1308.9 670.44 L1309.4 670.47 L1309.9 670.5 L1310.4 670.54 L1310.9 670.57 L1311.4 670.58 L1311.9 670.58 L1312.4 670.55 L1312.9 670.51 L1313.4 670.44 L1313.9 670.38 L1314.4 670.32 L1314.9 670.28 L1315.4 670.27 L1315.9 670.28 L1316.4 670.32 L1316.9 670.37 L1317.4 670.42 L1317.9 670.47 L1318.4 670.49 L1318.9 670.51 L1319.4 670.51 L1319.9 670.52 L1320.4 670.54 L1320.9 670.58 L1321.4 670.64 L1321.9 670.7 L1322.4 670.77 L1322.9 670.83 L1323.4 670.86 L1323.9 670.86 L1324.4 670.84 L1324.9 670.8 L1325.4 670.73 L1325.9 670.66 L1326.4 670.59 L1326.9 670.52 L1327.4 670.47 L1327.9 670.43 L1328.4 670.41 L1328.9 670.41 L1329.4 670.42 L1329.9 670.44 L1330.4 670.45 L1330.9 670.47 L1331.4 670.49 L1331.9 670.51 L1332.4 670.54 L1332.9 670.58 L1333.4 670.63 L1333.9 670.69 L1334.4 670.74 L1334.9 670.78 L1335.4 670.81 L1335.9 670.82 L1336.4 670.81 L1336.9 670.79 L1337.4 670.76 L1337.9 670.74 L1338.4 670.71 L1338.9 670.69 L1339.4 670.67 L1339.9 670.64 L1340.4 670.61 L1340.9 670.56 L1341.4 670.5 L1341.9 670.43 L1342.4 670.35 L1342.9 670.29 L1343.4 670.24 L1343.9 670.21 L1344.4 670.22 L1344.9 670.25 L1345.4 670.3 L1345.9 670.36 L1346.4 670.43 L1346.9 670.49 L1347.4 670.55 L1347.9 670.6 L1348.4 670.65 L1348.9 670.68 L1349.4 670.72 L1349.9 670.75 L1350.4 670.76 L1350.9 670.77 L1351.4 670.76 L1351.9 670.75 L1352.4 670.72 L1352.9 670.68 L1353.4 670.64 L1353.9 670.61 L1354.4 670.57 L1354.9 670.54 L1355.4 670.52 L1355.9 670.51 L1356.4 670.5 L1356.9 670.5 L1357.4 670.51 L1357.9 670.52 L1358.4 670.52 L1358.9 670.52 L1359.4 670.52 L1359.9 670.52 L1360.4 670.51 L1360.9 670.51 L1361.4 670.5 L1361.9 670.49 L1362.4 670.48 L1362.9 670.48 L1363.4 670.48 L1363.9 670.49 L1364.4 670.5 L1364.9 670.53 L1365.4 670.56 L1365.9 670.59 L1366.4 670.61 L1366.9 670.63 L1367.4 670.64 L1367.9 670.65 L1368.4 670.65 L1368.9 670.64 L1369.4 670.62 L1369.9 670.6 L1370.4 670.55 L1370.9 670.5 L1371.4 670.44 L1371.9 670.38 L1372.4 670.34 L1372.9 670.31 L1373.4 670.3 L1373.9 670.32 L1374.4 670.36 L1374.9 670.41 L1375.4 670.47 L1375.9 670.53 L1376.4 670.58 L1376.9 670.64 L1377.4 670.71 L1377.9 670.77 L1378.4 670.84 L1378.9 670.9 L1379.4 670.96 L1379.9 671 L1380.4 671.02 L1380.9 671.01 L1381.4 670.97 L1381.9 670.9 L1382.4 670.81 L1382.9 670.72 L1383.4 670.64 L1383.9 670.57 L1384.4 670.54 L1384.9 670.52 L1385.4 670.53 L1385.9 670.56 L1386.4 670.6 L1386.9 670.63 L1387.4 670.67 L1387.9 670.7 L1388.4 670.72 L1388.9 670.74 L1389.4 670.75 L1389.9 670.77 L1390.4 670.78 L1390.9 670.79 L1391.4 670.79 L1391.9 670.79 L1392.4 670.79 L1392.9 670.79 L1393.4 670.78 L1393.9 670.77 L1394.4 670.76 L1394.9 670.74 L1395.4 670.72 L1395.9 670.69 L1396.4 670.67 L1396.9 670.65 L1397.4 670.64 L1397.9 670.64 L1398.4 670.65 L1398.9 670.67 L1399.4 670.68 L1399.9 670.69 L1400.4 670.7 L1400.9 670.69 L1401.4 670.66 L1401.9 670.62 L1402.4 670.57 L1402.9 670.5 L1403.4 670.42 L1403.9 670.35 L1404.4 670.29 L1404.9 670.25 L1405.4 670.23 L1405.9 670.24 L1406.4 670.26 L1406.9 670.3 L1407.4 670.35 L1407.9 670.39 L1408.4 670.41 L1408.9 670.42 L1409.4 670.4 L1409.9 670.36 L1410.4 670.29 L1410.9 670.22 L1411.4 670.14 L1411.9 670.07 L1412.4 670.02 L1412.9 669.99 L1413.4 669.99 L1413.9 670.01 L1414.4 670.04 L1414.9 670.09 L1415.4 670.14 L1415.9 670.19 L1416.4 670.23 L1416.9 670.25 L1417.4 670.27 L1417.9 670.27 L1418.4 670.27 L1418.9 670.27 L1419.4 670.27 L1419.9 670.28 L1420.4 670.29 L1420.9 670.31 L1421.4 670.34 L1421.9 670.36 L1422.4 670.38 L1422.9 670.39 L1423.4 670.39 L1423.9 670.38 L1424.4 670.37 L1424.9 670.35 L1425.4 670.33 L1425.9 670.3 L1426.4 670.28 L1426.9 670.27 L1427.4 670.26 L1427.9 670.26 L1428.4 670.26 L1428.9 670.28 L1429.4 670.3 L1429.9 670.32 L1430.4 670.35 L1430.9 670.38 L1431.4 670.41 L1431.9 670.44 L1432.4 670.47 L1432.9 670.49 L1433.4 670.5 L1433.9 670.5 L1434.4 670.49 L1434.9 670.47 L1435.4 670.45 L1435.9 670.42 L1436.4 670.39 L1436.9 670.35 L1437.4 670.32 L1437.9 670.29 L1438.4 670.26 L1438.9 670.25 L1439.4 670.26 L1439.9 670.29 L1440.4 670.34 L1440.9 670.41 L1441.4 670.48 L1441.9 670.56 L1442.4 670.63 L1442.9 670.69 L1443.4 670.72 L1443.9 670.75 L1444.4 670.76 L1444.9 670.75 L1445.4 670.75 L1445.9 670.74 L1446.4 670.75 L1446.9 670.76 L1447.4 670.78 L1447.9 670.81 L1448.4 670.85 L1448.9 670.87 L1449.4 670.89 L1449.9 670.88 L1450.4 670.85 L1450.9 670.8 L1451.4 670.74 L1451.9 670.67 L1452.4 670.61 L1452.9 670.56 L1453.4 670.53 L1453.9 670.52 L1454.4 670.51 L1454.9 670.51 L1455.4 670.51 L1455.9 670.49 L1456.4 670.45 L1456.9 670.4 L1457.4 670.35 L1457.9 670.29 L1458.4 670.23 L1458.9 670.18 L1459.4 670.15 L1459.9 670.13 L1460.4 670.12 L1460.9 670.12 L1461.4 670.13 L1461.9 670.13 L1462.4 670.13 L1462.9 670.12 L1463.4 670.11 L1463.9 670.1 L1464.4 670.09 L1464.9 670.09 L1465.4 670.12 L1465.9 670.16 L1466.4 670.22 L1466.9 670.29 L1467.4 670.37 L1467.9 670.45 L1468.4 670.51 L1468.9 670.56 L1469.4 670.59 L1469.9 670.6 L1470.4 670.59 L1470.9 670.56 L1471.4 670.53 L1471.9 670.48 L1472.4 670.44 L1472.9 670.41 L1473.4 670.38 L1473.9 670.37 L1474.4 670.38 L1474.9 670.4 L1475.4 670.44 L1475.9 670.48 L1476.4 670.52 L1476.9 670.55 L1477.4 670.56 L1477.9 670.55 L1478.4 670.52 L1478.9 670.47 L1479.4 670.39 L1479.9 670.3 L1480.4 670.19 L1480.9 670.09 L1481.4 669.99 L1481.9 669.89 L1482.4 669.82 L1482.9 669.75 L1483.4 669.7 L1483.9 669.66 L1484.4 669.61 L1484.9 669.54 L1485.4 669.45 L1485.9 669.32 L1486.4 669.17 L1486.9 668.99 L1487.4 668.79 L1487.9 668.58 L1488.4 668.36 L1488.9 668.14 L1489.4 667.91 L1489.9 667.68 L1490.4 667.43 L1490.9 667.17 L1491.4 666.9 L1491.9 666.61 L1492.4 666.3 L1492.9 665.97 L1493.4 665.61 L1493.9 665.21 L1494.4 664.78 L1494.9 664.3 L1495.4 663.78 L1495.9 663.21 L1496.4 662.59 L1496.9 661.93 L1497.4 661.23 L1497.9 660.49 L1498.4 659.7 L1498.9 658.86 L1499.4 657.96 L1499.9 657.01 L1500.4 655.98 L1500.9 654.9 L1501.4 653.74 L1501.9 652.53 L1502.4 651.25 L1502.9 649.91 L1503.4 648.51 L1503.9 647.07 L1504.4 645.57 L1504.9 644.03 L1505.4 642.46 L1505.9 640.84 L1506.4 639.21 L1506.9 637.55 L1507.4 635.88 L1507.9 634.21 L1508.4 632.55 L1508.9 630.91 L1509.4 629.32 L1509.9 627.78 L1510.4 626.31 L1510.9 624.92 L1511.4 623.63 L1511.9 622.45 L1512.4 621.39 L1512.9 620.47 L1513.4 619.7 L1513.9 619.09 L1514.4 618.66 L1514.9 618.4 L1515.4 618.32 L1515.9 618.41 L1516.4 618.67 L1516.9 619.08 L1517.4 619.62 L1517.9 620.3 L1518.4 621.1 L1518.9 622.02 L1519.4 623.05 L1519.9 624.17 L1520.4 625.38 L1520.9 626.65 L1521.4 627.95 L1521.9 629.27 L1522.4 630.58 L1522.9 631.86 L1523.4 633.1 L1523.9 634.28 L1524.4 635.38 L1524.9 636.41 L1525.4 637.36 L1525.9 638.23 L1526.4 639.03 L1526.9 639.78 L1527.4 640.48 L1527.9 641.16 L1528.4 641.82 L1528.9 642.46 L1529.4 643.07 L1529.9 643.66 L1530.4 644.22 L1530.9 644.74 L1531.4 645.2 L1531.9 645.62 L1532.4 645.98 L1532.9 646.27 L1533.4 646.51 L1533.9 646.7 L1534.4 646.84 L1534.9 646.94 L1535.4 647 L1535.9 647.04 L1536.4 647.04 L1536.9 647.03 L1537.4 646.98 L1537.9 646.9 L1538.4 646.79 L1538.9 646.64 L1539.4 646.44 L1539.9 646.2 L1540.4 645.91 L1540.9 645.58 L1541.4 645.19 L1541.9 644.75 L1542.4 644.24 L1542.9 643.68 L1543.4 643.05 L1543.9 642.35 L1544.4 641.58 L1544.9 640.75 L1545.4 639.86 L1545.9 638.9 L1546.4 637.89 L1546.9 636.83 L1547.4 635.72 L1547.9 634.56 L1548.4 633.36 L1548.9 632.13 L1549.4 630.85 L1549.9 629.53 L1550.4 628.17 L1550.9 626.76 L1551.4 625.29 L1551.9 623.76 L1552.4 622.18 L1552.9 620.54 L1553.4 618.85 L1553.9 617.09 L1554.4 615.27 L1554.9 613.38 L1555.4 611.41 L1555.9 609.37 L1556.4 607.23 L1556.9 605 L1557.4 602.69 L1557.9 600.28 L1558.4 597.79 L1558.9 595.2 L1559.4 592.53 L1559.9 589.76 L1560.4 586.88 L1560.9 583.89 L1561.4 580.78 L1561.9 577.56 L1562.4 574.24 L1562.9 570.82 L1563.4 567.3 L1563.9 563.71 L1564.4 560.05 L1564.9 556.31 L1565.4 552.51 L1565.9 548.66 L1566.4 544.76 L1566.9 540.82 L1567.4 536.85 L1567.9 532.85 L1568.4 528.83 L1568.9 524.8 L1569.4 520.75 L1569.9 516.7 L1570.4 512.65 L1570.9 508.62 L1571.4 504.62 L1571.9 500.66 L1572.4 496.74 L1572.9 492.85 L1573.4 489 L1573.9 485.15 L1574.4 481.3 L1574.9 477.42 L1575.4 473.52 L1575.9 469.57 L1576.4 465.6 L1576.9 461.6 L1577.4 457.6 L1577.9 453.61 L1578.4 449.64 L1578.9 445.69 L1579.4 441.78 L1579.9 437.9 L1580.4 434.05 L1580.9 430.23 L1581.4 426.43 L1581.9 422.62 L1582.4 418.79 L1582.9 414.89 L1583.4 410.91 L1583.9 406.8 L1584.4 402.53 L1584.9 398.07 L1585.4 393.43 L1585.9 388.6 L1586.4 383.61 L1586.9 378.5 L1587.4 373.31 L1587.9 368.12 L1588.4 362.94 L1588.9 357.84 L1589.4 352.81 L1589.9 347.86 L1590.4 342.98 L1590.9 338.14 L1591.4 333.3 L1591.9 328.45 L1592.4 323.56 L1592.9 318.64 L1593.4 313.68 L1593.9 308.7 L1594.4 303.72 L1594.9 298.78 L1595.4 293.93 L1595.9 289.22 L1596.4 284.71 L1596.9 280.46 L1597.4 276.53 L1597.9 272.97 L1598.4 269.78 L1598.9 266.96 L1599.4 264.45 L1599.9 262.22 L1600.4 260.18 L1600.9 258.29 L1601.4 256.48 L1601.9 254.7 L1602.4 252.93 L1602.9 251.16 L1603.4 249.4 L1603.9 247.66 L1604.4 245.95 L1604.9 244.27 L1605.4 242.65 L1605.9 241.08 L1606.4 239.59 L1606.9 238.19 L1607.4 236.89 L1607.9 235.71 L1608.4 234.69 L1608.9 233.84 L1609.4 233.18 L1609.9 232.75 L1610.4 232.55 L1610.9 232.61 L1611.4 232.9 L1611.9 233.43 L1612.4 234.18 L1612.9 235.11 L1613.4 236.19 L1613.9 237.41 L1614.4 238.73 L1614.9 240.13 L1615.4 241.61 L1615.9 243.16 L1616.4 244.76 L1616.9 246.43 L1617.4 248.18 L1617.9 249.99 L1618.4 251.89 L1618.9 253.87 L1619.4 255.95 L1619.9 258.12 L1620.4 260.4 L1620.9 262.79 L1621.4 265.29 L1621.9 267.92 L1622.4 270.68 L1622.9 273.56 L1623.4 276.58 L1623.9 279.73 L1624.4 283.02 L1624.9 286.45 L1625.4 290.03 L1625.9 293.75 L1626.4 297.59 L1626.9 301.5 L1627.4 305.43 L1627.9 309.32 L1628.4 313.15 L1628.9 316.89 L1629.4 320.56 L1629.9 324.18 L1630.4 327.77 L1630.9 331.37 L1631.4 334.99 L1631.9 338.63 L1632.4 342.3 L1632.9 346.01 L1633.4 349.76 L1633.9 353.57 L1634.4 357.45 L1634.9 361.4 L1635.4 365.43 L1635.9 369.52 L1636.4 373.64 L1636.9 377.77 L1637.4 381.88 L1637.9 385.93 L1638.4 389.9 L1638.9 393.78 L1639.4 397.55 L1639.9 401.22 L1640.4 404.8 L1640.9 408.28 L1641.4 411.7 L1641.9 415.05 L1642.4 418.34 L1642.9 421.59 L1643.4 424.81 L1643.9 428 L1644.4 431.2 L1644.9 434.39 L1645.4 437.61 L1645.9 440.83 L1646.4 444.08 L1646.9 447.34 L1647.4 450.62 L1647.9 453.92 L1648.4 457.25 L1648.9 460.63 L1649.4 464.05 L1649.9 467.53 L1650.4 471.06 L1650.9 474.63 L1651.4 478.22 L1651.9 481.81 L1652.4 485.38 L1652.9 488.91 L1653.4 492.38 L1653.9 495.77 L1654.4 499.08 L1654.9 502.28 L1655.4 505.37 L1655.9 508.35 L1656.4 511.23 L1656.9 514 L1657.4 516.66 L1657.9 519.22 L1658.4 521.7 L1658.9 524.1 L1659.4 526.44 L1659.9 528.75 L1660.4 531.05 L1660.9 533.34 L1661.4 535.64 L1661.9 537.94 L1662.4 540.25 L1662.9 542.54 L1663.4 544.82 L1663.9 547.08 L1664.4 549.32 L1664.9 551.54 L1665.4 553.73 L1665.9 555.9 L1666.4 558.05 L1666.9 560.16 L1667.4 562.25 L1667.9 564.3 L1668.4 566.32 L1668.9 568.3 L1669.4 570.26 L1669.9 572.18 L1670.4 574.07 L1670.9 575.93 L1671.4 577.76 L1671.9 579.54 L1672.4 581.29 L1672.9 582.98 L1673.4 584.63 L1673.9 586.22 L1674.4 587.75 L1674.9 589.23 L1675.4 590.65 L1675.9 592.02 L1676.4 593.34 L1676.9 594.61 L1677.4 595.84 L1677.9 597.04 L1678.4 598.21 L1678.9 599.34 L1679.4 600.43 L1679.9 601.47 L1680.4 602.46 L1680.9 603.38 L1681.4 604.23 L1681.9 605.03 L1682.4 605.78 L1682.9 606.5 L1683.4 607.19 L1683.9 607.88 L1684.4 608.57 L1684.9 609.27 L1685.4 609.98 L1685.9 610.7 L1686.4 611.42 L1686.9 612.15 L1687.4 612.88 L1687.9 613.61 L1688.4 614.34 L1688.9 615.08 L1689.4 615.82 L1689.9 616.59 L1690.4 617.37 L1690.9 618.18 L1691.4 619.01 L1691.9 619.89 L1692.4 620.8 L1692.9 621.77 L1693.4 622.78 L1693.9 623.86 L1694.4 624.98 L1694.9 626.13 L1695.4 627.31 L1695.9 628.5 L1696.4 629.68 L1696.9 630.84 L1697.4 631.99 L1697.9 633.11 L1698.4 634.21 L1698.9 635.31 L1699.4 636.39 L1699.9 637.46 L1700.4 638.53 L1700.9 639.59 L1701.4 640.64 L1701.9 641.68 L1702.4 642.7 L1702.9 643.7 L1703.4 644.68 L1703.9 645.64 L1704.4 646.57 L1704.9 647.47 L1705.4 648.35 L1705.9 649.19 L1706.4 650.01 L1706.9 650.79 L1707.4 651.55 L1707.9 652.28 L1708.4 652.98 L1708.9 653.64 L1709.4 654.26 L1709.9 654.83 L1710.4 655.36 L1710.9 655.83 L1711.4 656.25 L1711.9 656.61 L1712.4 656.93 L1712.9 657.21 L1713.4 657.45 L1713.9 657.66 L1714.4 657.84 L1714.9 657.99 L1715.4 658.1 L1715.9 658.17 L1716.4 658.19 L1716.9 658.15 L1717.4 658.07 L1717.9 657.95 L1718.4 657.79 L1718.9 657.62 L1719.4 657.44 L1719.9 657.26 L1720.4 657.08 L1720.9 656.9 L1721.4 656.72 L1721.9 656.54 L1722.4 656.35 L1722.9 656.15 L1723.4 655.94 L1723.9 655.72 L1724.4 655.5 L1724.9 655.28 L1725.4 655.08 L1725.9 654.89 L1726.4 654.72 L1726.9 654.59 L1727.4 654.5 L1727.9 654.46 L1728.4 654.47 L1728.9 654.53 L1729.4 654.63 L1729.9 654.78 L1730.4 654.95 L1730.9 655.15 L1731.4 655.37 L1731.9 655.6 L1732.4 655.83 L1732.9 656.07 L1733.4 656.33 L1733.9 656.6 L1734.4 656.89 L1734.9 657.2 L1735.4 657.55 L1735.9 657.94 L1736.4 658.35 L1736.9 658.79 L1737.4 659.25 L1737.9 659.72 L1738.4 660.18 L1738.9 660.63 L1739.4 661.06 L1739.9 661.48 L1740.4 661.89 L1740.9 662.28 L1741.4 662.65 L1741.9 663.02 L1742.4 663.36 L1742.9 663.69 L1743.4 663.98 L1743.9 664.25 L1744.4 664.48 L1744.9 664.67 L1745.4 664.84 L1745.9 664.98 L1746.4 665.12 L1746.9 665.24 L1747.4 665.37 L1747.9 665.5 L1748.4 665.63 L1748.9 665.76 L1749.4 665.9 L1749.9 666.04 L1750.4 666.18 L1750.9 666.32 L1751.4 666.47 L1751.9 666.62 L1752.4 666.79 L1752.9 666.96 L1753.4 667.14 L1753.9 667.33 L1754.4 667.53 L1754.9 667.73 L1755.4 667.93 L1755.9 668.11 L1756.4 668.28 L1756.9 668.44 L1757.4 668.57 L1757.9 668.68 L1758.4 668.77 L1758.9 668.84 L1759.4 668.91 L1759.9 668.97 L1760.4 669.02 L1760.9 669.07 L1761.4 669.11 L1761.9 669.16 L1762.4 669.21 L1762.9 669.26 L1763.4 669.33 L1763.9 669.41 L1764.4 669.5 L1764.9 669.59 L1765.4 669.68 L1765.9 669.76 L1766.4 669.83 L1766.9 669.88 L1767.4 669.93 L1767.9 669.95 L1768.4 669.98 L1768.9 669.99 L1769.4 670.01 L1769.9 670.02 L1770.4 670.03 L1770.9 670.04 L1771.4 670.05 L1771.9 670.05 L1772.4 670.06 L1772.9 670.06 L1773.4 670.06 L1773.9 670.08 L1774.4 670.1 L1774.9 670.15 L1775.4 670.21 L1775.9 670.28 L1776.4 670.37 L1776.9 670.47 L1777.4 670.57 L1777.9 670.66 L1778.4 670.73 L1778.9 670.79 L1779.4 670.82 L1779.9 670.82 L1780.4 670.81 L1780.9 670.79 L1781.4 670.76 L1781.9 670.72 L1782.4 670.69 L1782.9 670.65 L1783.4 670.6 L1783.9 670.54 L1784.4 670.46 L1784.9 670.37 L1785.4 670.26 L1785.9 670.15 L1786.4 670.05 L1786.9 669.96 L1787.4 669.9 L1787.9 669.87 L1788.4 669.89 L1788.9 669.95 L1789.4 670.03 L1789.9 670.14 L1790.4 670.25 L1790.9 670.36 L1791.4 670.46 L1791.9 670.54 L1792.4 670.58 L1792.9 670.6 L1793.4 670.58 L1793.9 670.55 L1794.4 670.49 L1794.9 670.44 L1795.4 670.4 L1795.9 670.37 L1796.4 670.37 L1796.9 670.39 L1797.4 670.43 L1797.9 670.48 L1798.4 670.53 L1798.9 670.57 L1799.4 670.61 L1799.9 670.63 L1800.4 670.64 L1800.9 670.64 L1801.4 670.63 L1801.9 670.62 L1802.4 670.61 L1802.9 670.59 L1803.4 670.57 L1803.9 670.55 L1804.4 670.53 L1804.9 670.52 L1805.4 670.53 L1805.9 670.55 L1806.4 670.58 L1806.9 670.62 L1807.4 670.65 L1807.9 670.68 L1808.4 670.69 L1808.9 670.67 L1809.4 670.64 L1809.9 670.6 L1810.4 670.54 L1810.9 670.47 L1811.4 670.42 L1811.9 670.39 L1812.4 670.37 L1812.9 670.39 L1813.4 670.42 L1813.9 670.46 L1814.4 670.5 L1814.9 670.54 L1815.4 670.58 L1815.9 670.62 L1816.4 670.65 L1816.9 670.7 L1817.4 670.74 L1817.9 670.79 L1818.4 670.82 L1818.9 670.84 L1819.4 670.82 L1819.9 670.78 L1820.4 670.7 L1820.9 670.61 L1821.4 670.5 L1821.9 670.39 L1822.4 670.29 L1822.9 670.21 L1823.4 670.15 L1823.9 670.11 L1824.4 670.08 L1824.9 670.06 L1825.4 670.05 L1825.9 670.04 L1826.4 670.03 L1826.9 670.03 L1827.4 670.04 L1827.9 670.06 L1828.4 670.09 L1828.9 670.13 L1829.4 670.16 L1829.9 670.2 L1830.4 670.23 L1830.9 670.26 L1831.4 670.29 L1831.9 670.32 L1832.4 670.36 L1832.9 670.4 L1833.4 670.46 L1833.9 670.52 L1834.4 670.59 L1834.9 670.66 L1835.4 670.73 L1835.9 670.79 L1836.4 670.84 L1836.9 670.86 L1837.4 670.86 L1837.9 670.83 L1838.4 670.78 L1838.9 670.7 L1839.4 670.61 L1839.9 670.5 L1840.4 670.4 L1840.9 670.3 L1841.4 670.21 L1841.9 670.12 L1842.4 670.06 L1842.9 670 L1843.4 669.96 L1843.9 669.94 L1844.4 669.94 L1844.9 669.96 L1845.4 670 L1845.9 670.07 L1846.4 670.15 L1846.9 670.24 L1847.4 670.33 L1847.9 670.42 L1848.4 670.51 L1848.9 670.57 L1849.4 670.62 L1849.9 670.64 L1850.4 670.64 L1850.9 670.62 L1851.4 670.59 L1851.9 670.56 L1852.4 670.55 L1852.9 670.55 L1853.4 670.57 L1853.9 670.61 L1854.4 670.66 L1854.9 670.72 L1855.4 670.78 L1855.9 670.84 L1856.4 670.88 L1856.9 670.91 L1857.4 670.91 L1857.9 670.89 L1858.4 670.84 L1858.9 670.77 L1859.4 670.69 L1859.9 670.62 L1860.4 670.57 L1860.9 670.55 L1861.4 670.56 L1861.9 670.59 L1862.4 670.64 L1862.9 670.69 L1863.4 670.74 L1863.9 670.78 L1864.4 670.8 L1864.9 670.81 L1865.4 670.81 L1865.9 670.8 L1866.4 670.79 L1866.9 670.77 L1867.4 670.77 L1867.9 670.77 L1868.4 670.79 L1868.9 670.83 L1869.4 670.88 L1869.9 670.93 L1870.4 670.98 L1870.9 671.02 L1871.4 671.04 L1871.9 671.03 L1872.4 671.01 L1872.9 670.98 L1873.4 670.94 L1873.9 670.89 L1874.4 670.85 L1874.9 670.81 L1875.4 670.78 L1875.9 670.75 L1876.4 670.73 L1876.9 670.72 L1877.4 670.7 L1877.9 670.68 L1878.4 670.65 L1878.9 670.61 L1879.4 670.56 L1879.9 670.51 L1880.4 670.46 L1880.9 670.41 L1881.4 670.39 L1881.9 670.38 L1882.4 670.39 L1882.9 670.42 L1883.4 670.45 L1883.9 670.49 L1884.4 670.53 L1884.9 670.55 L1885.4 670.57 L1885.9 670.57 L1886.4 670.56 L1886.9 670.54 L1887.4 670.51 L1887.9 670.47 L1888.4 670.43 L1888.9 670.39 L1889.4 670.36 L1889.9 670.34 L1890.4 670.33 L1890.9 670.34 L1891.4 670.36 L1891.9 670.39 L1892.4 670.41 L1892.9 670.43 L1893.4 670.44 L1893.9 670.43 L1894.4 670.42 L1894.9 670.41 L1895.4 670.4 L1895.9 670.39 L1896.4 670.38 L1896.9 670.38 L1897.4 670.38 L1897.9 670.38 L1898.4 670.37 L1898.9 670.35 L1899.4 670.31 L1899.9 670.24 L1900.4 670.15 L1900.9 670.04 L1901.4 669.89 L1901.9 669.72 L1902.4 669.53 L1902.9 669.32 L1903.4 669.1 L1903.9 668.88 L1904.4 668.65 L1904.9 668.41 L1905.4 668.17 L1905.9 667.92 L1906.4 667.67 L1906.9 667.4 L1907.4 667.14 L1907.9 666.87 L1908.4 666.59 L1908.9 666.31 L1909.4 666.03 L1909.9 665.76 L1910.4 665.48 L1910.9 665.21 L1911.4 664.95 L1911.9 664.7 L1912.4 664.47 L1912.9 664.24 L1913.4 664.02 L1913.9 663.81 L1914.4 663.59 L1914.9 663.37 L1915.4 663.14 L1915.9 662.9 L1916.4 662.63 L1916.9 662.35 L1917.4 662.05 L1917.9 661.74 L1918.4 661.41 L1918.9 661.06 L1919.4 660.7 L1919.9 660.32 L1920.4 659.92 L1920.9 659.5 L1921.4 659.05 L1921.9 658.58 L1922.4 658.1 L1922.9 657.6 L1923.4 657.11 L1923.9 656.61 L1924.4 656.11 L1924.9 655.61 L1925.4 655.1 L1925.9 654.58 L1926.4 654.07 L1926.9 653.55 L1927.4 653.05 L1927.9 652.56 L1928.4 652.1 L1928.9 651.66 L1929.4 651.26 L1929.9 650.88 L1930.4 650.54 L1930.9 650.23 L1931.4 649.97 L1931.9 649.75 L1932.4 649.57 L1932.9 649.44 L1933.4 649.35 L1933.9 649.3 L1934.4 649.29 L1934.9 649.33 L1935.4 649.4 L1935.9 649.51 L1936.4 649.67 L1936.9 649.88 L1937.4 650.14 L1937.9 650.46 L1938.4 650.81 L1938.9 651.2 L1939.4 651.61 L1939.9 652.04 L1940.4 652.47 L1940.9 652.9 L1941.4 653.34 L1941.9 653.8 L1942.4 654.27 L1942.9 654.75 L1943.4 655.24 L1943.9 655.75 L1944.4 656.27 L1944.9 656.81 L1945.4 657.36 L1945.9 657.93 L1946.4 658.51 L1946.9 659.09 L1947.4 659.67 L1947.9 660.21 L1948.4 660.72 L1948.9 661.16 L1949.4 661.54 L1949.9 661.84 L1950.4 662.05 L1950.9 662.16 L1951.4 662.16 L1951.9 662.04 L1952.4 661.8 L1952.9 661.43 L1953.4 660.96 L1953.9 660.39 L1954.4 659.75 L1954.9 659.04 L1955.4 658.3 L1955.9 657.53 L1956.4 656.74 L1956.9 655.93 L1957.4 655.09 L1957.9 654.21 L1958.4 653.27 L1958.9 652.27 L1959.4 651.19 L1959.9 650.02 L1960.4 648.75 L1960.9 647.38 L1961.4 645.91 L1961.9 644.34 L1962.4 642.69 L1962.9 640.97 L1963.4 639.2 L1963.9 637.41 L1964.4 635.6 L1964.9 633.8 L1965.4 632.01 L1965.9 630.24 L1966.4 628.48 L1966.9 626.74 L1967.4 625.03 L1967.9 623.34 L1968.4 621.68 L1968.9 620.08 L1969.4 618.54 L1969.9 617.08 L1970.4 615.7 L1970.9 614.42 L1971.4 613.25 L1971.9 612.19 L1972.4 611.26 L1972.9 610.46 L1973.4 609.81 L1973.9 609.32 L1974.4 609.01 L1974.9 608.86 L1975.4 608.9 L1975.9 609.1 L1976.4 609.47 L1976.9 609.98 L1977.4 610.62 L1977.9 611.38 L1978.4 612.23 L1978.9 613.17 L1979.4 614.17 L1979.9 615.23 L1980.4 616.33 L1980.9 617.48 L1981.4 618.66 L1981.9 619.86 L1982.4 621.07 L1982.9 622.29 L1983.4 623.51 L1983.9 624.72 L1984.4 625.93 L1984.9 627.13 L1985.4 628.33 L1985.9 629.53 L1986.4 630.74 L1986.9 631.96 L1987.4 633.17 L1987.9 634.37 L1988.4 635.55 L1988.9 636.7 L1989.4 637.82 L1989.9 638.9 L1990.4 639.95 L1990.9 640.99 L1991.4 642.02 L1991.9 643.05 L1992.4 644.09 L1992.9 645.13 L1993.4 646.16 L1993.9 647.19 L1994.4 648.2 L1994.9 649.2 L1995.4 650.18 L1995.9 651.14 L1996.4 652.07 L1996.9 652.99 L1997.4 653.89 L1997.9 654.76 L1998.4 655.61 L1998.9 656.43 L1999.4 657.23 L1999.9 658.01 L2000.4 658.77 L2000.9 659.51 L2001.4 660.24 L2001.9 660.96 L2002.4 661.68 L2002.9 662.38 L2003.4 663.06 L2003.9 663.71 L2004.4 664.33 L2004.9 664.91 L2005.4 665.44 L2005.9 665.93 L2006.4 666.36 L2006.9 666.76 L2007.4 667.12 L2007.9 667.44 L2008.4 667.74 L2008.9 668.02 L2009.4 668.29 L2009.9 668.54 L2010.4 668.79 L2010.9 669.03 L2011.4 669.28 L2011.9 669.52 L2012.4 669.76 L2012.9 669.97 L2013.4 670.17 L2013.9 670.36 L2014.4 670.53 L2014.9 670.69 L2015.4 670.84 L2015.9 670.99 L2016.4 671.11 L2016.9 671.21 L2017.4 671.27 L2017.9 671.29 L2018.4 671.27 L2018.9 671.23 L2019.4 671.16 L2019.9 671.1 L2020.4 671.04 L2020.9 671.01 L2021.4 670.98 L2021.9 670.97 L2022.4 670.95 L2022.9 670.93 L2023.4 670.89 L2023.9 670.85 L2024.4 670.8 L2024.9 670.75 L2025.4 670.7 L2025.9 670.65 L2026.4 670.6 L2026.9 670.55 L2027.4 670.49 L2027.9 670.42 L2028.4 670.34 L2028.9 670.27 L2029.4 670.21 L2029.9 670.16 L2030.4 670.14 L2030.9 670.14 L2031.4 670.17 L2031.9 670.22 L2032.4 670.29 L2032.9 670.37 L2033.4 670.46 L2033.9 670.55 L2034.4 670.64 L2034.9 670.72 L2035.4 670.79 L2035.9 670.84 L2036.4 670.87 L2036.9 670.88 L2037.4 670.87 L2037.9 670.84 L2038.4 670.8 L2038.9 670.76 L2039.4 670.71 L2039.9 670.68 L2040.4 670.65 L2040.9 670.63 L2041.4 670.59 L2041.9 670.55 L2042.4 670.48 L2042.9 670.4 L2043.4 670.29 L2043.9 670.17 L2044.4 670.04 L2044.9 669.92 L2045.4 669.8 L2045.9 669.69 L2046.4 669.57 L2046.9 669.44 L2047.4 669.28 L2047.9 669.1 L2048.4 668.88 L2048.9 668.63 L2049.4 668.36 L2049.9 668.07 L2050.4 667.77 L2050.9 667.46 L2051.4 667.15 L2051.9 666.83 L2052.4 666.52 L2052.9 666.19 L2053.4 665.86 L2053.9 665.52 L2054.4 665.17 L2054.9 664.83 L2055.4 664.47 L2055.9 664.12 L2056.4 663.75 L2056.9 663.37 L2057.4 662.97 L2057.9 662.56 L2058.4 662.12 L2058.9 661.68 L2059.4 661.22 L2059.9 660.78 L2060.4 660.39 L2060.9 660.11" stroke="#148014" stroke-width="3.4"/>
<path d="M1208.9 235.45 L1209.4 235.45 L1209.9 235.45 L1210.4 235.45 L1210.9 235.45 L1211.4 235.44 L1211.9 235.42 L1212.4 235.4 L1212.9 235.37 L1213.4 235.34 L1213.9 235.3 L1214.4 235.26 L1214.9 235.22 L1215.4 235.2 L1215.9 235.17 L1216.4 235.16 L1216.9 235.15 L1217.4 235.14 L1217.9 235.13 L1218.4 235.13 L1218.9 235.13 L1219.4 235.13 L1219.9 235.14 L1220.4 235.16 L1220.9 235.2 L1221.4 235.23 L1221.9 235.28 L1222.4 235.33 L1222.9 235.38 L1223.4 235.43 L1223.9 235.47 L1224.4 235.5 L1224.9 235.52 L1225.4 235.52 L1225.9 235.52 L1226.4 235.51 L1226.9 235.5 L1227.4 235.48 L1227.9 235.45 L1228.4 235.43 L1228.9 235.41 L1229.4 235.39 L1229.9 235.37 L1230.4 235.36 L1230.9 235.35 L1231.4 235.34 L1231.9 235.34 L1232.4 235.34 L1232.9 235.34 L1233.4 235.34 L1233.9 235.35 L1234.4 235.36 L1234.9 235.37 L1235.4 235.38 L1235.9 235.39 L1236.4 235.4 L1236.9 235.4 L1237.4 235.41 L1237.9 235.42 L1238.4 235.43 L1238.9 235.43 L1239.4 235.43 L1239.9 235.43 L1240.4 235.43 L1240.9 235.43 L1241.4 235.43 L1241.9 235.44 L1242.4 235.45 L1242.9 235.46 L1243.4 235.47 L1243.9 235.48 L1244.4 235.48 L1244.9 235.48 L1245.4 235.47 L1245.9 235.46 L1246.4 235.45 L1246.9 235.45 L1247.4 235.44 L1247.9 235.44 L1248.4 235.44 L1248.9 235.45 L1249.4 235.46 L1249.9 235.46 L1250.4 235.47 L1250.9 235.48 L1251.4 235.48 L1251.9 235.47 L1252.4 235.46 L1252.9 235.44 L1253.4 235.42 L1253.9 235.41 L1254.4 235.39 L1254.9 235.39 L1255.4 235.39 L1255.9 235.4 L1256.4 235.42 L1256.9 235.44 L1257.4 235.47 L1257.9 235.49 L1258.4 235.5 L1258.9 235.51 L1259.4 235.51 L1259.9 235.49 L1260.4 235.47 L1260.9 235.44 L1261.4 235.42 L1261.9 235.39 L1262.4 235.38 L1262.9 235.37 L1263.4 235.37 L1263.9 235.39 L1264.4 235.4 L1264.9 235.42 L1265.4 235.43 L1265.9 235.44 L1266.4 235.43 L1266.9 235.41 L1267.4 235.39 L1267.9 235.35 L1268.4 235.32 L1268.9 235.29 L1269.4 235.27 L1269.9 235.27 L1270.4 235.28 L1270.9 235.29 L1271.4 235.32 L1271.9 235.36 L1272.4 235.39 L1272.9 235.42 L1273.4 235.45 L1273.9 235.47 L1274.4 235.47 L1274.9 235.47 L1275.4 235.46 L1275.9 235.44 L1276.4 235.43 L1276.9 235.41 L1277.4 235.4 L1277.9 235.4 L1278.4 235.4 L1278.9 235.4 L1279.4 235.41 L1279.9 235.42 L1280.4 235.43 L1280.9 235.44 L1281.4 235.44 L1281.9 235.44 L1282.4 235.43 L1282.9 235.44 L1283.4 235.44 L1283.9 235.45 L1284.4 235.47 L1284.9 235.49 L1285.4 235.5 L1285.9 235.51 L1286.4 235.52 L1286.9 235.51 L1287.4 235.5 L1287.9 235.48 L1288.4 235.47 L1288.9 235.45 L1289.4 235.44 L1289.9 235.43 L1290.4 235.42 L1290.9 235.41 L1291.4 235.39 L1291.9 235.37 L1292.4 235.34 L1292.9 235.31 L1293.4 235.29 L1293.9 235.26 L1294.4 235.25 L1294.9 235.26 L1295.4 235.27 L1295.9 235.29 L1296.4 235.33 L1296.9 235.37 L1297.4 235.41 L1297.9 235.45 L1298.4 235.48 L1298.9 235.51 L1299.4 235.53 L1299.9 235.54 L1300.4 235.54 L1300.9 235.53 L1301.4 235.51 L1301.9 235.48 L1302.4 235.45 L1302.9 235.41 L1303.4 235.38 L1303.9 235.35 L1304.4 235.33 L1304.9 235.32 L1305.4 235.33 L1305.9 235.34 L1306.4 235.36 L1306.9 235.38 L1307.4 235.4 L1307.9 235.42 L1308.4 235.43 L1308.9 235.43 L1309.4 235.43 L1309.9 235.43 L1310.4 235.43 L1310.9 235.43 L1311.4 235.43 L1311.9 235.44 L1312.4 235.45 L1312.9 235.46 L1313.4 235.48 L1313.9 235.49 L1314.4 235.5 L1314.9 235.51 L1315.4 235.52 L1315.9 235.53 L1316.4 235.53 L1316.9 235.53 L1317.4 235.53 L1317.9 235.54 L1318.4 235.54 L1318.9 235.55 L1319.4 235.56 L1319.9 235.57 L1320.4 235.58 L1320.9 235.59 L1321.4 235.59 L1321.9 235.58 L1322.4 235.56 L1322.9 235.53 L1323.4 235.51 L1323.9 235.48 L1324.4 235.46 L1324.9 235.46 L1325.4 235.46 L1325.9 235.47 L1326.4 235.48 L1326.9 235.5 L1327.4 235.52 L1327.9 235.53 L1328.4 235.54 L1328.9 235.53 L1329.4 235.53 L1329.9 235.52 L1330.4 235.51 L1330.9 235.5 L1331.4 235.49 L1331.9 235.49 L1332.4 235.48 L1332.9 235.48 L1333.4 235.47 L1333.9 235.47 L1334.4 235.47 L1334.9 235.48 L1335.4 235.48 L1335.9 235.48 L1336.4 235.48 L1336.9 235.48 L1337.4 235.46 L1337.9 235.45 L1338.4 235.42 L1338.9 235.4 L1339.4 235.38 L1339.9 235.36 L1340.4 235.36 L1340.9 235.36 L1341.4 235.37 L1341.9 235.38 L1342.4 235.39 L1342.9 235.4 L1343.4 235.41 L1343.9 235.42 L1344.4 235.42 L1344.9 235.42 L1345.4 235.42 L1345.9 235.41 L1346.4 235.4 L1346.9 235.4 L1347.4 235.39 L1347.9 235.38 L1348.4 235.37 L1348.9 235.36 L1349.4 235.36 L1349.9 235.36 L1350.4 235.37 L1350.9 235.38 L1351.4 235.39 L1351.9 235.4 L1352.4 235.42 L1352.9 235.43 L1353.4 235.44 L1353.9 235.44 L1354.4 235.43 L1354.9 235.42 L1355.4 235.41 L1355.9 235.4 L1356.4 235.39 L1356.9 235.37 L1357.4 235.36 L1357.9 235.35 L1358.4 235.34 L1358.9 235.33 L1359.4 235.31 L1359.9 235.3 L1360.4 235.29 L1360.9 235.27 L1361.4 235.27 L1361.9 235.26 L1362.4 235.27 L1362.9 235.27 L1363.4 235.28 L1363.9 235.29 L1364.4 235.31 L1364.9 235.32 L1365.4 235.34 L1365.9 235.36 L1366.4 235.39 L1366.9 235.42 L1367.4 235.45 L1367.9 235.48 L1368.4 235.5 L1368.9 235.51 L1369.4 235.51 L1369.9 235.5 L1370.4 235.49 L1370.9 235.46 L1371.4 235.44 L1371.9 235.42 L1372.4 235.41 L1372.9 235.4 L1373.4 235.39 L1373.9 235.39 L1374.4 235.39 L1374.9 235.39 L1375.4 235.39 L1375.9 235.39 L1376.4 235.4 L1376.9 235.4 L1377.4 235.4 L1377.9 235.39 L1378.4 235.39 L1378.9 235.38 L1379.4 235.36 L1379.9 235.35 L1380.4 235.34 L1380.9 235.33 L1381.4 235.32 L1381.9 235.32 L1382.4 235.32 L1382.9 235.33 L1383.4 235.35 L1383.9 235.37 L1384.4 235.39 L1384.9 235.41 L1385.4 235.43 L1385.9 235.45 L1386.4 235.46 L1386.9 235.46 L1387.4 235.45 L1387.9 235.44 L1388.4 235.43 L1388.9 235.43 L1389.4 235.42 L1389.9 235.42 L1390.4 235.42 L1390.9 235.42 L1391.4 235.41 L1391.9 235.41 L1392.4 235.41 L1392.9 235.4 L1393.4 235.4 L1393.9 235.4 L1394.4 235.4 L1394.9 235.41 L1395.4 235.43 L1395.9 235.44 L1396.4 235.45 L1396.9 235.47 L1397.4 235.48 L1397.9 235.49 L1398.4 235.5 L1398.9 235.51 L1399.4 235.52 L1399.9 235.53 L1400.4 235.55 L1400.9 235.56 L1401.4 235.57 L1401.9 235.57 L1402.4 235.58 L1402.9 235.57 L1403.4 235.56 L1403.9 235.55 L1404.4 235.54 L1404.9 235.53 L1405.4 235.52 L1405.9 235.51 L1406.4 235.5 L1406.9 235.5 L1407.4 235.49 L1407.9 235.49 L1408.4 235.48 L1408.9 235.47 L1409.4 235.45 L1409.9 235.43 L1410.4 235.41 L1410.9 235.38 L1411.4 235.35 L1411.9 235.32 L1412.4 235.29 L1412.9 235.26 L1413.4 235.23 L1413.9 235.2 L1414.4 235.19 L1414.9 235.17 L1415.4 235.16 L1415.9 235.16 L1416.4 235.17 L1416.9 235.17 L1417.4 235.18 L1417.9 235.2 L1418.4 235.21 L1418.9 235.23 L1419.4 235.25 L1419.9 235.27 L1420.4 235.28 L1420.9 235.3 L1421.4 235.32 L1421.9 235.33 L1422.4 235.35 L1422.9 235.36 L1423.4 235.38 L1423.9 235.39 L1424.4 235.4 L1424.9 235.41 L1425.4 235.41 L1425.9 235.41 L1426.4 235.41 L1426.9 235.4 L1427.4 235.39 L1427.9 235.37 L1428.4 235.36 L1428.9 235.35 L1429.4 235.34 L1429.9 235.34 L1430.4 235.34 L1430.9 235.36 L1431.4 235.39 L1431.9 235.42 L1432.4 235.46 L1432.9 235.5 L1433.4 235.53 L1433.9 235.56 L1434.4 235.58 L1434.9 235.58 L1435.4 235.57 L1435.9 235.56 L1436.4 235.53 L1436.9 235.5 L1437.4 235.46 L1437.9 235.43 L1438.4 235.39 L1438.9 235.35 L1439.4 235.32 L1439.9 235.28 L1440.4 235.25 L1440.9 235.23 L1441.4 235.21 L1441.9 235.2 L1442.4 235.2 L1442.9 235.21 L1443.4 235.23 L1443.9 235.26 L1444.4 235.29 L1444.9 235.33 L1445.4 235.36 L1445.9 235.39 L1446.4 235.41 L1446.9 235.42 L1447.4 235.43 L1447.9 235.43 L1448.4 235.43 L1448.9 235.42 L1449.4 235.41 L1449.9 235.41 L1450.4 235.4 L1450.9 235.4 L1451.4 235.39 L1451.9 235.39 L1452.4 235.38 L1452.9 235.37 L1453.4 235.36 L1453.9 235.35 L1454.4 235.35 L1454.9 235.35 L1455.4 235.36 L1455.9 235.38 L1456.4 235.41 L1456.9 235.45 L1457.4 235.48 L1457.9 235.5 L1458.4 235.51 L1458.9 235.51 L1459.4 235.5 L1459.9 235.48 L1460.4 235.46 L1460.9 235.43 L1461.4 235.41 L1461.9 235.39 L1462.4 235.38 L1462.9 235.37 L1463.4 235.37 L1463.9 235.39 L1464.4 235.41 L1464.9 235.44 L1465.4 235.47 L1465.9 235.51 L1466.4 235.55 L1466.9 235.59 L1467.4 235.63 L1467.9 235.65 L1468.4 235.67 L1468.9 235.69 L1469.4 235.69 L1469.9 235.69 L1470.4 235.68 L1470.9 235.67 L1471.4 235.66 L1471.9 235.65 L1472.4 235.63 L1472.9 235.61 L1473.4 235.6 L1473.9 235.58 L1474.4 235.56 L1474.9 235.54 L1475.4 235.52 L1475.9 235.5 L1476.4 235.48 L1476.9 235.46 L1477.4 235.45 L1477.9 235.44 L1478.4 235.43 L1478.9 235.43 L1479.4 235.44 L1479.9 235.44 L1480.4 235.45 L1480.9 235.45 L1481.4 235.45 L1481.9 235.45 L1482.4 235.45 L1482.9 235.44 L1483.4 235.44 L1483.9 235.43 L1484.4 235.43 L1484.9 235.42 L1485.4 235.41 L1485.9 235.41 L1486.4 235.41 L1486.9 235.42 L1487.4 235.43 L1487.9 235.44 L1488.4 235.46 L1488.9 235.49 L1489.4 235.51 L1489.9 235.54 L1490.4 235.58 L1490.9 235.61 L1491.4 235.66 L1491.9 235.7 L1492.4 235.76 L1492.9 235.82 L1493.4 235.88 L1493.9 235.95 L1494.4 236.02 L1494.9 236.09 L1495.4 236.15 L1495.9 236.22 L1496.4 236.29 L1496.9 236.38 L1497.4 236.47 L1497.9 236.58 L1498.4 236.7 L1498.9 236.85 L1499.4 237.01 L1499.9 237.2 L1500.4 237.4 L1500.9 237.63 L1501.4 237.87 L1501.9 238.12 L1502.4 238.38 L1502.9 238.64 L1503.4 238.9 L1503.9 239.14 L1504.4 239.38 L1504.9 239.6 L1505.4 239.82 L1505.9 240.02 L1506.4 240.23 L1506.9 240.43 L1507.4 240.63 L1507.9 240.83 L1508.4 241.03 L1508.9 241.22 L1509.4 241.42 L1509.9 241.6 L1510.4 241.76 L1510.9 241.91 L1511.4 242.04 L1511.9 242.14 L1512.4 242.22 L1512.9 242.28 L1513.4 242.31 L1513.9 242.31 L1514.4 242.3 L1514.9 242.26 L1515.4 242.2 L1515.9 242.13 L1516.4 242.04 L1516.9 241.94 L1517.4 241.82 L1517.9 241.69 L1518.4 241.55 L1518.9 241.39 L1519.4 241.23 L1519.9 241.07 L1520.4 240.91 L1520.9 240.75 L1521.4 240.61 L1521.9 240.47 L1522.4 240.35 L1522.9 240.25 L1523.4 240.15 L1523.9 240.05 L1524.4 239.96 L1524.9 239.87 L1525.4 239.78 L1525.9 239.68 L1526.4 239.58 L1526.9 239.47 L1527.4 239.37 L1527.9 239.27 L1528.4 239.17 L1528.9 239.09 L1529.4 239.01 L1529.9 238.95 L1530.4 238.9 L1530.9 238.86 L1531.4 238.82 L1531.9 238.79 L1532.4 238.76 L1532.9 238.73 L1533.4 238.69 L1533.9 238.65 L1534.4 238.61 L1534.9 238.56 L1535.4 238.51 L1535.9 238.47 L1536.4 238.43 L1536.9 238.4 L1537.4 238.37 L1537.9 238.35 L1538.4 238.33 L1538.9 238.32 L1539.4 238.31 L1539.9 238.3 L1540.4 238.29 L1540.9 238.28 L1541.4 238.27 L1541.9 238.26 L1542.4 238.26 L1542.9 238.25 L1543.4 238.25 L1543.9 238.26 L1544.4 238.28 L1544.9 238.3 L1545.4 238.33 L1545.9 238.37 L1546.4 238.4 L1546.9 238.45 L1547.4 238.49 L1547.9 238.54 L1548.4 238.59 L1548.9 238.65 L1549.4 238.71 L1549.9 238.78 L1550.4 238.86 L1550.9 238.96 L1551.4 239.06 L1551.9 239.18 L1552.4 239.32 L1552.9 239.47 L1553.4 239.64 L1553.9 239.82 L1554.4 240 L1554.9 240.19 L1555.4 240.37 L1555.9 240.55 L1556.4 240.73 L1556.9 240.9 L1557.4 241.07 L1557.9 241.24 L1558.4 241.41 L1558.9 241.59 L1559.4 241.77 L1559.9 241.95 L1560.4 242.12 L1560.9 242.28 L1561.4 242.44 L1561.9 242.58 L1562.4 242.73 L1562.9 242.87 L1563.4 243.01 L1563.9 243.16 L1564.4 243.32 L1564.9 243.48 L1565.4 243.65 L1565.9 243.81 L1566.4 243.97 L1566.9 244.13 L1567.4 244.27 L1567.9 244.4 L1568.4 244.52 L1568.9 244.62 L1569.4 244.72 L1569.9 244.8 L1570.4 244.87 L1570.9 244.93 L1571.4 244.98 L1571.9 245.03 L1572.4 245.06 L1572.9 245.08 L1573.4 245.09 L1573.9 245.09 L1574.4 245.08 L1574.9 245.05 L1575.4 245.03 L1575.9 245 L1576.4 244.96 L1576.9 244.92 L1577.4 244.87 L1577.9 244.82 L1578.4 244.76 L1578.9 244.69 L1579.4 244.61 L1579.9 244.51 L1580.4 244.41 L1580.9 244.29 L1581.4 244.15 L1581.9 244.01 L1582.4 243.86 L1582.9 243.7 L1583.4 243.54 L1583.9 243.37 L1584.4 243.2 L1584.9 243.02 L1585.4 242.83 L1585.9 242.63 L1586.4 242.43 L1586.9 242.21 L1587.4 241.98 L1587.9 241.74 L1588.4 241.49 L1588.9 241.24 L1589.4 240.98 L1589.9 240.71 L1590.4 240.43 L1590.9 240.15 L1591.4 239.85 L1591.9 239.55 L1592.4 239.24 L1592.9 238.91 L1593.4 238.56 L1593.9 238.19 L1594.4 237.8 L1594.9 237.38 L1595.4 236.93 L1595.9 236.47 L1596.4 235.98 L1596.9 235.48 L1597.4 234.95 L1597.9 234.41 L1598.4 233.84 L1598.9 233.26 L1599.4 232.66 L1599.9 232.03 L1600.4 231.38 L1600.9 230.7 L1601.4 230.01 L1601.9 229.31 L1602.4 228.6 L1602.9 227.89 L1603.4 227.17 L1603.9 226.45 L1604.4 225.72 L1604.9 224.99 L1605.4 224.25 L1605.9 223.49 L1606.4 222.73 L1606.9 221.96 L1607.4 221.18 L1607.9 220.4 L1608.4 219.61 L1608.9 218.82 L1609.4 218.02 L1609.9 217.22 L1610.4 216.42 L1610.9 215.61 L1611.4 214.8 L1611.9 213.98 L1612.4 213.16 L1612.9 212.33 L1613.4 211.49 L1613.9 210.64 L1614.4 209.78 L1614.9 208.9 L1615.4 208.01 L1615.9 207.12 L1616.4 206.21 L1616.9 205.3 L1617.4 204.38 L1617.9 203.46 L1618.4 202.52 L1618.9 201.58 L1619.4 200.62 L1619.9 199.65 L1620.4 198.68 L1620.9 197.7 L1621.4 196.71 L1621.9 195.71 L1622.4 194.72 L1622.9 193.71 L1623.4 192.7 L1623.9 191.67 L1624.4 190.63 L1624.9 189.57 L1625.4 188.49 L1625.9 187.4 L1626.4 186.29 L1626.9 185.18 L1627.4 184.07 L1627.9 182.95 L1628.4 181.84 L1628.9 180.73 L1629.4 179.62 L1629.9 178.5 L1630.4 177.38 L1630.9 176.26 L1631.4 175.13 L1631.9 174 L1632.4 172.86 L1632.9 171.72 L1633.4 170.58 L1633.9 169.44 L1634.4 168.3 L1634.9 167.17 L1635.4 166.05 L1635.9 164.95 L1636.4 163.86 L1636.9 162.79 L1637.4 161.74 L1637.9 160.71 L1638.4 159.72 L1638.9 158.75 L1639.4 157.8 L1639.9 156.87 L1640.4 155.97 L1640.9 155.07 L1641.4 154.19 L1641.9 153.31 L1642.4 152.44 L1642.9 151.58 L1643.4 150.73 L1643.9 149.89 L1644.4 149.07 L1644.9 148.25 L1645.4 147.45 L1645.9 146.65 L1646.4 145.87 L1646.9 145.09 L1647.4 144.32 L1647.9 143.57 L1648.4 142.82 L1648.9 142.08 L1649.4 141.35 L1649.9 140.63 L1650.4 139.92 L1650.9 139.22 L1651.4 138.53 L1651.9 137.85 L1652.4 137.19 L1652.9 136.53 L1653.4 135.89 L1653.9 135.25 L1654.4 134.62 L1654.9 134 L1655.4 133.38 L1655.9 132.77 L1656.4 132.17 L1656.9 131.57 L1657.4 130.98 L1657.9 130.4 L1658.4 129.83 L1658.9 129.27 L1659.4 128.72 L1659.9 128.17 L1660.4 127.64 L1660.9 127.12 L1661.4 126.6 L1661.9 126.09 L1662.4 125.59 L1662.9 125.1 L1663.4 124.62 L1663.9 124.14 L1664.4 123.68 L1664.9 123.22 L1665.4 122.76 L1665.9 122.32 L1666.4 121.87 L1666.9 121.44 L1667.4 121 L1667.9 120.56 L1668.4 120.13 L1668.9 119.71 L1669.4 119.29 L1669.9 118.89 L1670.4 118.49 L1670.9 118.11 L1671.4 117.74 L1671.9 117.39 L1672.4 117.05 L1672.9 116.72 L1673.4 116.39 L1673.9 116.08 L1674.4 115.77 L1674.9 115.47 L1675.4 115.17 L1675.9 114.88 L1676.4 114.6 L1676.9 114.32 L1677.4 114.04 L1677.9 113.77 L1678.4 113.5 L1678.9 113.23 L1679.4 112.97 L1679.9 112.71 L1680.4 112.46 L1680.9 112.21 L1681.4 111.96 L1681.9 111.7 L1682.4 111.45 L1682.9 111.2 L1683.4 110.95 L1683.9 110.71 L1684.4 110.48 L1684.9 110.26 L1685.4 110.04 L1685.9 109.83 L1686.4 109.62 L1686.9 109.42 L1687.4 109.21 L1687.9 109.01 L1688.4 108.8 L1688.9 108.59 L1689.4 108.39 L1689.9 108.2 L1690.4 108.01 L1690.9 107.83 L1691.4 107.66 L1691.9 107.5 L1692.4 107.35 L1692.9 107.19 L1693.4 107.04 L1693.9 106.88 L1694.4 106.72 L1694.9 106.55 L1695.4 106.38 L1695.9 106.2 L1696.4 106.02 L1696.9 105.85 L1697.4 105.68 L1697.9 105.51 L1698.4 105.36 L1698.9 105.21 L1699.4 105.07 L1699.9 104.95 L1700.4 104.83 L1700.9 104.73 L1701.4 104.63 L1701.9 104.55 L1702.4 104.47 L1702.9 104.41 L1703.4 104.35 L1703.9 104.3 L1704.4 104.26 L1704.9 104.22 L1705.4 104.19 L1705.9 104.17 L1706.4 104.16 L1706.9 104.16 L1707.4 104.16 L1707.9 104.16 L1708.4 104.15 L1708.9 104.14 L1709.4 104.11 L1709.9 104.06 L1710.4 104 L1710.9 103.92 L1711.4 103.83 L1711.9 103.73 L1712.4 103.62 L1712.9 103.51 L1713.4 103.39 L1713.9 103.26 L1714.4 103.13 L1714.9 102.98 L1715.4 102.82 L1715.9 102.64 L1716.4 102.43 L1716.9 102.21 L1717.4 101.97 L1717.9 101.71 L1718.4 101.44 L1718.9 101.15 L1719.4 100.85 L1719.9 100.54 L1720.4 100.22 L1720.9 99.87 L1721.4 99.51 L1721.9 99.13 L1722.4 98.72 L1722.9 98.3 L1723.4 97.84 L1723.9 97.37 L1724.4 96.87 L1724.9 96.36 L1725.4 95.82 L1725.9 95.28 L1726.4 94.72 L1726.9 94.16 L1727.4 93.59 L1727.9 93.01 L1728.4 92.42 L1728.9 91.82 L1729.4 91.21 L1729.9 90.59 L1730.4 89.97 L1730.9 89.35 L1731.4 88.73 L1731.9 88.11 L1732.4 87.51 L1732.9 86.94 L1733.4 86.39 L1733.9 85.87 L1734.4 85.38 L1734.9 84.93 L1735.4 84.51 L1735.9 84.12 L1736.4 83.76 L1736.9 83.43 L1737.4 83.13 L1737.9 82.85 L1738.4 82.59 L1738.9 82.36 L1739.4 82.15 L1739.9 81.95 L1740.4 81.76 L1740.9 81.59 L1741.4 81.41 L1741.9 81.25 L1742.4 81.1 L1742.9 80.96 L1743.4 80.84 L1743.9 80.73 L1744.4 80.64 L1744.9 80.54 L1745.4 80.45 L1745.9 80.35 L1746.4 80.25 L1746.9 80.13 L1747.4 80 L1747.9 79.87 L1748.4 79.74 L1748.9 79.62 L1749.4 79.51 L1749.9 79.42 L1750.4 79.34 L1750.9 79.28 L1751.4 79.22 L1751.9 79.18 L1752.4 79.13 L1752.9 79.08 L1753.4 79.02 L1753.9 78.96 L1754.4 78.89 L1754.9 78.81 L1755.4 78.73 L1755.9 78.66 L1756.4 78.59 L1756.9 78.52 L1757.4 78.46 L1757.9 78.41 L1758.4 78.37 L1758.9 78.34 L1759.4 78.32 L1759.9 78.3 L1760.4 78.29 L1760.9 78.28 L1761.4 78.27 L1761.9 78.25 L1762.4 78.23 L1762.9 78.21 L1763.4 78.19 L1763.9 78.17 L1764.4 78.15 L1764.9 78.13 L1765.4 78.11 L1765.9 78.08 L1766.4 78.06 L1766.9 78.03 L1767.4 78 L1767.9 77.97 L1768.4 77.95 L1768.9 77.93 L1769.4 77.91 L1769.9 77.9 L1770.4 77.88 L1770.9 77.87 L1771.4 77.85 L1771.9 77.84 L1772.4 77.83 L1772.9 77.82 L1773.4 77.82 L1773.9 77.83 L1774.4 77.84 L1774.9 77.85 L1775.4 77.87 L1775.9 77.88 L1776.4 77.9 L1776.9 77.91 L1777.4 77.93 L1777.9 77.94 L1778.4 77.96 L1778.9 77.97 L1779.4 77.99 L1779.9 78 L1780.4 78 L1780.9 78 L1781.4 78 L1781.9 77.99 L1782.4 77.98 L1782.9 77.96 L1783.4 77.95 L1783.9 77.94 L1784.4 77.93 L1784.9 77.92 L1785.4 77.91 L1785.9 77.9 L1786.4 77.89 L1786.9 77.87 L1787.4 77.85 L1787.9 77.83 L1788.4 77.81 L1788.9 77.8 L1789.4 77.79 L1789.9 77.78 L1790.4 77.79 L1790.9 77.79 L1791.4 77.8 L1791.9 77.82 L1792.4 77.83 L1792.9 77.85 L1793.4 77.87 L1793.9 77.88 L1794.4 77.88 L1794.9 77.88 L1795.4 77.88 L1795.9 77.87 L1796.4 77.86 L1796.9 77.86 L1797.4 77.86 L1797.9 77.86 L1798.4 77.88 L1798.9 77.9 L1799.4 77.92 L1799.9 77.95 L1800.4 77.98 L1800.9 78.01 L1801.4 78.03 L1801.9 78.05 L1802.4 78.07 L1802.9 78.08 L1803.4 78.07 L1803.9 78.06 L1804.4 78.04 L1804.9 78 L1805.4 77.97 L1805.9 77.93 L1806.4 77.91 L1806.9 77.88 L1807.4 77.87 L1807.9 77.86 L1808.4 77.86 L1808.9 77.85 L1809.4 77.84 L1809.9 77.83 L1810.4 77.82 L1810.9 77.8 L1811.4 77.79 L1811.9 77.78 L1812.4 77.78 L1812.9 77.79 L1813.4 77.82 L1813.9 77.84 L1814.4 77.87 L1814.9 77.9 L1815.4 77.92 L1815.9 77.94 L1816.4 77.95 L1816.9 77.95 L1817.4 77.95 L1817.9 77.94 L1818.4 77.93 L1818.9 77.92 L1819.4 77.91 L1819.9 77.9 L1820.4 77.9 L1820.9 77.89 L1821.4 77.89 L1821.9 77.87 L1822.4 77.86 L1822.9 77.84 L1823.4 77.83 L1823.9 77.81 L1824.4 77.8 L1824.9 77.79 L1825.4 77.78 L1825.9 77.78 L1826.4 77.79 L1826.9 77.8 L1827.4 77.82 L1827.9 77.84 L1828.4 77.85 L1828.9 77.87 L1829.4 77.87 L1829.9 77.86 L1830.4 77.85 L1830.9 77.83 L1831.4 77.8 L1831.9 77.78 L1832.4 77.77 L1832.9 77.77 L1833.4 77.78 L1833.9 77.81 L1834.4 77.84 L1834.9 77.87 L1835.4 77.9 L1835.9 77.93 L1836.4 77.95 L1836.9 77.96 L1837.4 77.96 L1837.9 77.95 L1838.4 77.94 L1838.9 77.92 L1839.4 77.91 L1839.9 77.89 L1840.4 77.89 L1840.9 77.88 L1841.4 77.88 L1841.9 77.88 L1842.4 77.87 L1842.9 77.86 L1843.4 77.85 L1843.9 77.83 L1844.4 77.81 L1844.9 77.79 L1845.4 77.77 L1845.9 77.74 L1846.4 77.73 L1846.9 77.72 L1847.4 77.71 L1847.9 77.71 L1848.4 77.72 L1848.9 77.72 L1849.4 77.73 L1849.9 77.74 L1850.4 77.76 L1850.9 77.77 L1851.4 77.78 L1851.9 77.79 L1852.4 77.81 L1852.9 77.82 L1853.4 77.83 L1853.9 77.84 L1854.4 77.84 L1854.9 77.84 L1855.4 77.83 L1855.9 77.82 L1856.4 77.8 L1856.9 77.79 L1857.4 77.77 L1857.9 77.76 L1858.4 77.75 L1858.9 77.73 L1859.4 77.72 L1859.9 77.7 L1860.4 77.68 L1860.9 77.65 L1861.4 77.63 L1861.9 77.6 L1862.4 77.58 L1862.9 77.56 L1863.4 77.54 L1863.9 77.53 L1864.4 77.52 L1864.9 77.52 L1865.4 77.51 L1865.9 77.5 L1866.4 77.49 L1866.9 77.49 L1867.4 77.49 L1867.9 77.49 L1868.4 77.5 L1868.9 77.51 L1869.4 77.52 L1869.9 77.54 L1870.4 77.55 L1870.9 77.57 L1871.4 77.58 L1871.9 77.6 L1872.4 77.61 L1872.9 77.62 L1873.4 77.62 L1873.9 77.62 L1874.4 77.62 L1874.9 77.62 L1875.4 77.62 L1875.9 77.63 L1876.4 77.64 L1876.9 77.66 L1877.4 77.69 L1877.9 77.71 L1878.4 77.73 L1878.9 77.75 L1879.4 77.76 L1879.9 77.75 L1880.4 77.74 L1880.9 77.71 L1881.4 77.68 L1881.9 77.65 L1882.4 77.62 L1882.9 77.59 L1883.4 77.57 L1883.9 77.56 L1884.4 77.55 L1884.9 77.55 L1885.4 77.56 L1885.9 77.57 L1886.4 77.58 L1886.9 77.61 L1887.4 77.64 L1887.9 77.67 L1888.4 77.71 L1888.9 77.76 L1889.4 77.8 L1889.9 77.84 L1890.4 77.86 L1890.9 77.88 L1891.4 77.88 L1891.9 77.88 L1892.4 77.87 L1892.9 77.86 L1893.4 77.85 L1893.9 77.84 L1894.4 77.84 L1894.9 77.85 L1895.4 77.86 L1895.9 77.87 L1896.4 77.89 L1896.9 77.9 L1897.4 77.92 L1897.9 77.94 L1898.4 77.95 L1898.9 77.97 L1899.4 77.98 L1899.9 77.99 L1900.4 78 L1900.9 78 L1901.4 78 L1901.9 78 L1902.4 77.99 L1902.9 77.99 L1903.4 77.98 L1903.9 77.98 L1904.4 77.98 L1904.9 77.98 L1905.4 77.99 L1905.9 77.99 L1906.4 78 L1906.9 78.01 L1907.4 78.03 L1907.9 78.04 L1908.4 78.07 L1908.9 78.1 L1909.4 78.13 L1909.9 78.16 L1910.4 78.2 L1910.9 78.25 L1911.4 78.29 L1911.9 78.33 L1912.4 78.38 L1912.9 78.42 L1913.4 78.47 L1913.9 78.52 L1914.4 78.57 L1914.9 78.61 L1915.4 78.66 L1915.9 78.7 L1916.4 78.73 L1916.9 78.76 L1917.4 78.79 L1917.9 78.81 L1918.4 78.84 L1918.9 78.86 L1919.4 78.89 L1919.9 78.93 L1920.4 78.96 L1920.9 79.01 L1921.4 79.05 L1921.9 79.11 L1922.4 79.17 L1922.9 79.23 L1923.4 79.31 L1923.9 79.38 L1924.4 79.46 L1924.9 79.54 L1925.4 79.61 L1925.9 79.68 L1926.4 79.74 L1926.9 79.81 L1927.4 79.87 L1927.9 79.93 L1928.4 79.99 L1928.9 80.05 L1929.4 80.1 L1929.9 80.14 L1930.4 80.16 L1930.9 80.18 L1931.4 80.18 L1931.9 80.17 L1932.4 80.15 L1932.9 80.11 L1933.4 80.07 L1933.9 80.02 L1934.4 79.96 L1934.9 79.9 L1935.4 79.84 L1935.9 79.78 L1936.4 79.72 L1936.9 79.65 L1937.4 79.59 L1937.9 79.52 L1938.4 79.45 L1938.9 79.37 L1939.4 79.28 L1939.9 79.19 L1940.4 79.09 L1940.9 78.98 L1941.4 78.86 L1941.9 78.74 L1942.4 78.62 L1942.9 78.51 L1943.4 78.41 L1943.9 78.32 L1944.4 78.24 L1944.9 78.17 L1945.4 78.11 L1945.9 78.07 L1946.4 78.03 L1946.9 78 L1947.4 77.99 L1947.9 77.98 L1948.4 77.98 L1948.9 77.98 L1949.4 77.99 L1949.9 78.01 L1950.4 78.03 L1950.9 78.05 L1951.4 78.08 L1951.9 78.11 L1952.4 78.13 L1952.9 78.15 L1953.4 78.17 L1953.9 78.19 L1954.4 78.2 L1954.9 78.22 L1955.4 78.23 L1955.9 78.25 L1956.4 78.26 L1956.9 78.27 L1957.4 78.27 L1957.9 78.26 L1958.4 78.24 L1958.9 78.21 L1959.4 78.16 L1959.9 78.1 L1960.4 78.03 L1960.9 77.95 L1961.4 77.86 L1961.9 77.75 L1962.4 77.64 L1962.9 77.51 L1963.4 77.36 L1963.9 77.2 L1964.4 77.01 L1964.9 76.8 L1965.4 76.56 L1965.9 76.3 L1966.4 76.01 L1966.9 75.7 L1967.4 75.36 L1967.9 75 L1968.4 74.61 L1968.9 74.19 L1969.4 73.73 L1969.9 73.24 L1970.4 72.72 L1970.9 72.15 L1971.4 71.55 L1971.9 70.91 L1972.4 70.24 L1972.9 69.53 L1973.4 68.79 L1973.9 68.02 L1974.4 67.23 L1974.9 66.43 L1975.4 65.62 L1975.9 64.8 L1976.4 63.99 L1976.9 63.19 L1977.4 62.39 L1977.9 61.59 L1978.4 60.79 L1978.9 60 L1979.4 59.21 L1979.9 58.41 L1980.4 57.62 L1980.9 56.84 L1981.4 56.07 L1981.9 55.31 L1982.4 54.56 L1982.9 53.84 L1983.4 53.13 L1983.9 52.44 L1984.4 51.78 L1984.9 51.14 L1985.4 50.51 L1985.9 49.9 L1986.4 49.31 L1986.9 48.73 L1987.4 48.17 L1987.9 47.61 L1988.4 47.07 L1988.9 46.54 L1989.4 46.03 L1989.9 45.54 L1990.4 45.08 L1990.9 44.64 L1991.4 44.22 L1991.9 43.82 L1992.4 43.45 L1992.9 43.09 L1993.4 42.75 L1993.9 42.42 L1994.4 42.11 L1994.9 41.82 L1995.4 41.55 L1995.9 41.29 L1996.4 41.04 L1996.9 40.8 L1997.4 40.58 L1997.9 40.36 L1998.4 40.15 L1998.9 39.96 L1999.4 39.78 L1999.9 39.61 L2000.4 39.46 L2000.9 39.32 L2001.4 39.19 L2001.9 39.07 L2002.4 38.97 L2002.9 38.87 L2003.4 38.79 L2003.9 38.71 L2004.4 38.64 L2004.9 38.59 L2005.4 38.54 L2005.9 38.5 L2006.4 38.46 L2006.9 38.42 L2007.4 38.38 L2007.9 38.33 L2008.4 38.28 L2008.9 38.23 L2009.4 38.18 L2009.9 38.14 L2010.4 38.09 L2010.9 38.05 L2011.4 38.02 L2011.9 37.99 L2012.4 37.97 L2012.9 37.95 L2013.4 37.94 L2013.9 37.93 L2014.4 37.92 L2014.9 37.92 L2015.4 37.91 L2015.9 37.91 L2016.4 37.91 L2016.9 37.91 L2017.4 37.9 L2017.9 37.89 L2018.4 37.88 L2018.9 37.86 L2019.4 37.84 L2019.9 37.82 L2020.4 37.8 L2020.9 37.78 L2021.4 37.77 L2021.9 37.77 L2022.4 37.78 L2022.9 37.8 L2023.4 37.83 L2023.9 37.86 L2024.4 37.88 L2024.9 37.91 L2025.4 37.93 L2025.9 37.94 L2026.4 37.94 L2026.9 37.94 L2027.4 37.94 L2027.9 37.93 L2028.4 37.93 L2028.9 37.93 L2029.4 37.92 L2029.9 37.92 L2030.4 37.93 L2030.9 37.93 L2031.4 37.94 L2031.9 37.94 L2032.4 37.95 L2032.9 37.96 L2033.4 37.97 L2033.9 37.98 L2034.4 37.99 L2034.9 37.99 L2035.4 37.99 L2035.9 37.99 L2036.4 37.98 L2036.9 37.97 L2037.4 37.95 L2037.9 37.93 L2038.4 37.91 L2038.9 37.9 L2039.4 37.89 L2039.9 37.89 L2040.4 37.89 L2040.9 37.9 L2041.4 37.91 L2041.9 37.92 L2042.4 37.93 L2042.9 37.93 L2043.4 37.94 L2043.9 37.95 L2044.4 37.95 L2044.9 37.96 L2045.4 37.98 L2045.9 37.99 L2046.4 38 L2046.9 38.02 L2047.4 38.03 L2047.9 38.04 L2048.4 38.06 L2048.9 38.08 L2049.4 38.11 L2049.9 38.14 L2050.4 38.17 L2050.9 38.2 L2051.4 38.24 L2051.9 38.28 L2052.4 38.33 L2052.9 38.38 L2053.4 38.43 L2053.9 38.49 L2054.4 38.55 L2054.9 38.62 L2055.4 38.69 L2055.9 38.76 L2056.4 38.83 L2056.9 38.9 L2057.4 38.96 L2057.9 39.01 L2058.4 39.06 L2058.9 39.1 L2059.4 39.13 L2059.9 39.16 L2060.4 39.19 L2060.9 39.22" stroke="#d81ad4" stroke-width="3.5"/>
</g>
<g font-size="28.6" fill="#000" stroke="#000">
<text x="1192.8" y="22.44" text-anchor="end">2.0</text>
<text x="1192.8" y="186.84" text-anchor="end">1.5</text>
<text x="1192.8" y="351.04" text-anchor="end">1.0</text>
<text x="1192.8" y="515.34" text-anchor="end">0.5</text>
<text x="1192.8" y="679.44" text-anchor="end">0.0</text>
<text x="2075.4" y="52.84" text-anchor="start">16</text>
<text x="2075.4" y="175.44" text-anchor="start">14</text>
<text x="2075.4" y="298.04" text-anchor="start">12</text>
<text x="1208.6" y="725.14" text-anchor="middle">6.5</text>
<text x="1502.4" y="725.14" text-anchor="middle">7.0</text>
<text x="1795.7" y="725.14" text-anchor="middle">7.5</text>
</g>
<text x="1604.6" y="766" font-size="36" text-anchor="start" fill="#000" stroke="#000">B [T]</text>
<text transform="translate(1125.5 483.4) rotate(-90)" font-size="36" fill="#148014" stroke="#148014" >R<tspan font-size="24" dy="9.6">yy</tspan><tspan dy="-9.6"> [k</tspan><tspan font-family='"Liberation Serif", serif' font-size="38">Ω</tspan>]</text>
<text transform="translate(2149.8 243.5) rotate(-90)" font-size="36" fill="#d81ad4" stroke="#d81ad4" >R<tspan font-size="24" dy="9.6">xy</tspan><tspan dy="-9.6"> [k</tspan><tspan font-family='"Liberation Serif", serif' font-size="38">Ω</tspan>]</text>
<text transform="translate(1317.6 512.3) rotate(-90)" font-size="36" fill="#000" stroke="#000" >2</text>
<text transform="translate(1722.6 536.6) rotate(-90)" font-size="36" fill="#000" stroke="#000" >12/7</text>
<text transform="translate(1832.9 529.5) rotate(-90)" font-size="36" fill="#000" stroke="#000" >5/3</text>
<text transform="translate(2018.7 534.6) rotate(-90)" font-size="36" fill="#000" stroke="#000" >8/5</text>
<rect x="1925.2" y="279.7" width="51.6" height="136.2" fill="#fff" stroke="#1a1a1a" stroke-width="1"/>
<text transform="translate(1963 411) rotate(-90)" font-size="36" fill="#000" stroke="#000" >RFQHS</text>
<text transform="translate(1246.5 96.3) scale(1 1)" font-family='"Liberation Serif", serif' font-style="italic" font-size="64" fill="#000" stroke="#fff" style="stroke-width:0.7px;paint-order:fill stroke">b</text>
</g>
</svg>
</body>
</html>
